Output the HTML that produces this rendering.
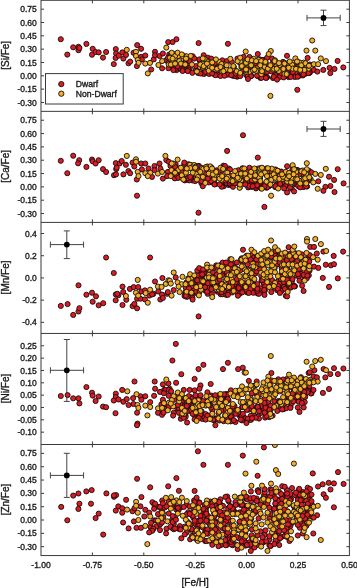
<!DOCTYPE html><html><head><meta charset="utf-8"><style>html,body{margin:0;padding:0;background:#fff;width:357px;height:588px;overflow:hidden}svg{display:block;will-change:transform}text{font-family:"Liberation Sans",sans-serif;fill:#1a1a1a;stroke:#1a1a1a;stroke-width:0.35px}</style></head><body><svg width="357" height="588" viewBox="0 0 357 588"><g stroke="#444" stroke-width="1" fill="none"><line x1="307.0" y1="17.9" x2="340.2" y2="17.9"/><line x1="323.5" y1="10.2" x2="323.5" y2="25.6"/><line x1="307.0" y1="14.9" x2="307.0" y2="20.9"/><line x1="340.2" y1="14.9" x2="340.2" y2="20.9"/><line x1="320.5" y1="10.2" x2="326.5" y2="10.2"/><line x1="320.5" y1="25.6" x2="326.5" y2="25.6"/></g><circle cx="323.5" cy="17.9" r="2.9" fill="#000"/><g stroke="#444" stroke-width="1" fill="none"><line x1="307.0" y1="129.0" x2="340.2" y2="129.0"/><line x1="323.5" y1="121.3" x2="323.5" y2="136.4"/><line x1="307.0" y1="126.0" x2="307.0" y2="132.0"/><line x1="340.2" y1="126.0" x2="340.2" y2="132.0"/><line x1="320.5" y1="121.3" x2="326.5" y2="121.3"/><line x1="320.5" y1="136.4" x2="326.5" y2="136.4"/></g><circle cx="323.5" cy="129.0" r="2.9" fill="#000"/><g stroke="#444" stroke-width="1" fill="none"><line x1="50.4" y1="244.6" x2="83.6" y2="244.6"/><line x1="66.8" y1="230.9" x2="66.8" y2="258.6"/><line x1="50.4" y1="241.6" x2="50.4" y2="247.6"/><line x1="83.6" y1="241.6" x2="83.6" y2="247.6"/><line x1="63.8" y1="230.9" x2="69.8" y2="230.9"/><line x1="63.8" y1="258.6" x2="69.8" y2="258.6"/></g><circle cx="66.8" cy="244.6" r="2.9" fill="#000"/><g stroke="#444" stroke-width="1" fill="none"><line x1="50.4" y1="370.3" x2="83.6" y2="370.3"/><line x1="66.8" y1="339.5" x2="66.8" y2="401.4"/><line x1="50.4" y1="367.3" x2="50.4" y2="373.3"/><line x1="83.6" y1="367.3" x2="83.6" y2="373.3"/><line x1="63.8" y1="339.5" x2="69.8" y2="339.5"/><line x1="63.8" y1="401.4" x2="69.8" y2="401.4"/></g><circle cx="66.8" cy="370.3" r="2.9" fill="#000"/><g stroke="#444" stroke-width="1" fill="none"><line x1="50.4" y1="475.4" x2="83.6" y2="475.4"/><line x1="66.8" y1="453.3" x2="66.8" y2="497.4"/><line x1="50.4" y1="472.4" x2="50.4" y2="478.4"/><line x1="83.6" y1="472.4" x2="83.6" y2="478.4"/><line x1="63.8" y1="453.3" x2="69.8" y2="453.3"/><line x1="63.8" y1="497.4" x2="69.8" y2="497.4"/></g><circle cx="66.8" cy="475.4" r="2.9" fill="#000"/><defs><clipPath id="c0"><rect x="41.00" y="0.30" width="308.40" height="111.05"/></clipPath><clipPath id="c1"><rect x="41.00" y="111.35" width="308.40" height="111.05"/></clipPath><clipPath id="c2"><rect x="41.00" y="222.40" width="308.40" height="111.05"/></clipPath><clipPath id="c3"><rect x="41.00" y="333.45" width="308.40" height="111.05"/></clipPath><clipPath id="c4"><rect x="41.00" y="444.50" width="308.40" height="111.05"/></clipPath></defs><g clip-path="url(#c0)" stroke="#140c0c" stroke-width="0.9"><g fill="#dc1c24"><circle cx="228.0" cy="73.2" r="2.55"/><circle cx="198.6" cy="67.5" r="2.55"/><circle cx="250.3" cy="66.0" r="2.55"/><circle cx="172.8" cy="68.4" r="2.55"/><circle cx="282.0" cy="72.7" r="2.55"/><circle cx="249.9" cy="68.5" r="2.55"/><circle cx="272.5" cy="64.9" r="2.55"/><circle cx="183.2" cy="62.1" r="2.55"/><circle cx="263.6" cy="73.5" r="2.55"/><circle cx="288.6" cy="77.1" r="2.55"/><circle cx="263.0" cy="59.9" r="2.55"/><circle cx="260.5" cy="77.9" r="2.55"/><circle cx="183.1" cy="56.0" r="2.55"/><circle cx="246.2" cy="75.1" r="2.55"/><circle cx="218.4" cy="73.5" r="2.55"/><circle cx="219.9" cy="68.0" r="2.55"/><circle cx="264.7" cy="59.9" r="2.55"/><circle cx="279.9" cy="75.8" r="2.55"/><circle cx="183.9" cy="69.5" r="2.55"/><circle cx="308.9" cy="73.0" r="2.55"/><circle cx="278.7" cy="69.6" r="2.55"/><circle cx="214.1" cy="61.6" r="2.55"/><circle cx="309.8" cy="72.7" r="2.55"/><circle cx="285.5" cy="73.5" r="2.55"/><circle cx="267.1" cy="77.2" r="2.55"/><circle cx="302.8" cy="75.5" r="2.55"/><circle cx="297.4" cy="74.3" r="2.55"/><circle cx="262.4" cy="76.3" r="2.55"/><circle cx="281.2" cy="66.2" r="2.55"/><circle cx="304.2" cy="71.8" r="2.55"/><circle cx="184.5" cy="57.7" r="2.55"/><circle cx="283.7" cy="63.0" r="2.55"/><circle cx="309.1" cy="70.5" r="2.55"/><circle cx="302.3" cy="68.0" r="2.55"/><circle cx="251.2" cy="75.7" r="2.55"/><circle cx="192.7" cy="56.2" r="2.55"/><circle cx="191.2" cy="64.0" r="2.55"/><circle cx="247.1" cy="73.3" r="2.55"/><circle cx="277.0" cy="76.4" r="2.55"/><circle cx="235.8" cy="75.7" r="2.55"/><circle cx="294.0" cy="76.4" r="2.55"/><circle cx="247.7" cy="76.3" r="2.55"/><circle cx="263.7" cy="73.9" r="2.55"/><circle cx="188.5" cy="67.8" r="2.55"/><circle cx="186.9" cy="70.4" r="2.55"/><circle cx="198.1" cy="73.0" r="2.55"/><circle cx="237.1" cy="76.7" r="2.55"/><circle cx="309.8" cy="71.9" r="2.55"/><circle cx="227.6" cy="74.7" r="2.55"/><circle cx="203.8" cy="59.7" r="2.55"/><circle cx="174.4" cy="65.7" r="2.55"/><circle cx="176.6" cy="70.1" r="2.55"/><circle cx="283.0" cy="61.9" r="2.55"/><circle cx="175.7" cy="68.8" r="2.55"/><circle cx="215.5" cy="67.5" r="2.55"/><circle cx="210.5" cy="70.7" r="2.55"/><circle cx="235.3" cy="75.6" r="2.55"/><circle cx="266.4" cy="77.7" r="2.55"/><circle cx="287.5" cy="73.0" r="2.55"/><circle cx="185.0" cy="56.4" r="2.55"/><circle cx="288.8" cy="75.8" r="2.55"/><circle cx="204.4" cy="73.7" r="2.55"/><circle cx="245.9" cy="63.1" r="2.55"/><circle cx="275.6" cy="71.8" r="2.55"/><circle cx="309.8" cy="64.5" r="2.55"/><circle cx="259.9" cy="59.4" r="2.55"/><circle cx="296.2" cy="71.2" r="2.55"/><circle cx="239.6" cy="73.9" r="2.55"/><circle cx="286.7" cy="70.8" r="2.55"/><circle cx="265.7" cy="72.2" r="2.55"/><circle cx="181.3" cy="69.0" r="2.55"/><circle cx="237.4" cy="58.6" r="2.55"/><circle cx="262.3" cy="60.0" r="2.55"/><circle cx="272.5" cy="63.3" r="2.55"/><circle cx="235.9" cy="71.0" r="2.55"/><circle cx="187.5" cy="59.8" r="2.55"/><circle cx="267.1" cy="71.9" r="2.55"/><circle cx="183.3" cy="70.2" r="2.55"/><circle cx="233.0" cy="73.4" r="2.55"/><circle cx="186.7" cy="64.3" r="2.55"/><circle cx="185.4" cy="69.2" r="2.55"/><circle cx="295.5" cy="72.4" r="2.55"/><circle cx="275.6" cy="75.1" r="2.55"/><circle cx="301.3" cy="72.0" r="2.55"/><circle cx="180.8" cy="68.9" r="2.55"/><circle cx="305.6" cy="73.7" r="2.55"/><circle cx="258.1" cy="76.2" r="2.55"/><circle cx="272.9" cy="67.9" r="2.55"/><circle cx="216.2" cy="63.0" r="2.55"/><circle cx="298.3" cy="76.4" r="2.55"/><circle cx="203.7" cy="66.9" r="2.55"/><circle cx="175.1" cy="58.7" r="2.55"/><circle cx="305.3" cy="73.3" r="2.55"/><circle cx="169.2" cy="54.5" r="2.55"/><circle cx="166.0" cy="60.3" r="2.55"/><circle cx="286.5" cy="75.5" r="2.55"/><circle cx="242.3" cy="71.2" r="2.55"/><circle cx="271.4" cy="71.5" r="2.55"/><circle cx="280.2" cy="64.3" r="2.55"/><circle cx="233.3" cy="75.9" r="2.55"/><circle cx="202.1" cy="73.5" r="2.55"/><circle cx="263.4" cy="76.6" r="2.55"/><circle cx="265.7" cy="62.7" r="2.55"/><circle cx="307.6" cy="66.4" r="2.55"/><circle cx="199.7" cy="60.7" r="2.55"/><circle cx="209.1" cy="73.9" r="2.55"/><circle cx="263.1" cy="77.0" r="2.55"/><circle cx="223.4" cy="62.0" r="2.55"/><circle cx="223.4" cy="74.1" r="2.55"/><circle cx="273.0" cy="78.0" r="2.55"/><circle cx="214.1" cy="60.9" r="2.55"/><circle cx="217.3" cy="74.7" r="2.55"/><circle cx="285.9" cy="74.9" r="2.55"/><circle cx="171.1" cy="55.0" r="2.55"/><circle cx="203.5" cy="70.0" r="2.55"/><circle cx="215.5" cy="62.5" r="2.55"/><circle cx="256.1" cy="63.6" r="2.55"/><circle cx="276.3" cy="76.5" r="2.55"/><circle cx="235.4" cy="76.0" r="2.55"/><circle cx="238.0" cy="75.6" r="2.55"/><circle cx="283.2" cy="73.4" r="2.55"/><circle cx="212.7" cy="63.9" r="2.55"/><circle cx="177.5" cy="57.7" r="2.55"/><circle cx="246.7" cy="64.6" r="2.55"/><circle cx="295.0" cy="76.9" r="2.55"/><circle cx="275.2" cy="75.2" r="2.55"/><circle cx="183.7" cy="69.3" r="2.55"/><circle cx="248.8" cy="65.6" r="2.55"/><circle cx="188.4" cy="70.6" r="2.55"/><circle cx="213.6" cy="64.6" r="2.55"/><circle cx="240.1" cy="62.8" r="2.55"/><circle cx="261.4" cy="77.8" r="2.55"/><circle cx="235.3" cy="73.5" r="2.55"/><circle cx="183.4" cy="58.2" r="2.55"/><circle cx="251.1" cy="76.2" r="2.55"/><circle cx="279.6" cy="77.0" r="2.55"/><circle cx="195.7" cy="70.0" r="2.55"/><circle cx="189.9" cy="67.6" r="2.55"/><circle cx="207.4" cy="62.7" r="2.55"/><circle cx="60.8" cy="39.2" r="2.55"/><circle cx="67.3" cy="54.6" r="2.55"/><circle cx="73.2" cy="47.3" r="2.55"/><circle cx="78.5" cy="46.8" r="2.55"/><circle cx="78.5" cy="50.2" r="2.55"/><circle cx="79.4" cy="47.9" r="2.55"/><circle cx="86.4" cy="43.9" r="2.55"/><circle cx="92.7" cy="48.8" r="2.55"/><circle cx="92.0" cy="54.7" r="2.55"/><circle cx="95.6" cy="52.0" r="2.55"/><circle cx="98.7" cy="52.4" r="2.55"/><circle cx="103.0" cy="57.6" r="2.55"/><circle cx="106.1" cy="52.0" r="2.55"/><circle cx="113.8" cy="64.1" r="2.55"/><circle cx="115.8" cy="49.1" r="2.55"/><circle cx="116.1" cy="53.4" r="2.55"/><circle cx="115.6" cy="57.9" r="2.55"/><circle cx="118.8" cy="55.6" r="2.55"/><circle cx="122.3" cy="52.4" r="2.55"/><circle cx="123.4" cy="58.6" r="2.55"/><circle cx="126.0" cy="54.9" r="2.55"/><circle cx="128.5" cy="63.3" r="2.55"/><circle cx="130.2" cy="61.6" r="2.55"/><circle cx="137.2" cy="45.1" r="2.55"/><circle cx="141.1" cy="48.8" r="2.55"/><circle cx="133.5" cy="52.7" r="2.55"/><circle cx="136.9" cy="66.1" r="2.55"/><circle cx="141.1" cy="56.9" r="2.55"/><circle cx="141.9" cy="59.4" r="2.55"/><circle cx="145.3" cy="55.5" r="2.55"/><circle cx="151.2" cy="69.5" r="2.55"/><circle cx="153.7" cy="59.4" r="2.55"/><circle cx="155.0" cy="51.8" r="2.55"/><circle cx="155.0" cy="55.2" r="2.55"/><circle cx="159.6" cy="56.0" r="2.55"/><circle cx="162.9" cy="53.5" r="2.55"/><circle cx="162.1" cy="68.3" r="2.55"/><circle cx="168.2" cy="42.1" r="2.55"/><circle cx="168.0" cy="57.7" r="2.55"/><circle cx="172.6" cy="42.1" r="2.55"/><circle cx="176.4" cy="39.2" r="2.55"/><circle cx="198.6" cy="43.1" r="2.55"/><circle cx="168.4" cy="62.8" r="2.55"/><circle cx="173.4" cy="68.7" r="2.55"/><circle cx="168.4" cy="68.2" r="2.55"/><circle cx="182.6" cy="69.5" r="2.55"/><circle cx="188.5" cy="69.5" r="2.55"/><circle cx="189.4" cy="61.1" r="2.55"/><circle cx="194.4" cy="58.6" r="2.55"/><circle cx="196.1" cy="66.1" r="2.55"/><circle cx="199.5" cy="59.4" r="2.55"/><circle cx="203.7" cy="55.2" r="2.55"/><circle cx="207.9" cy="57.7" r="2.55"/><circle cx="211.2" cy="58.6" r="2.55"/><circle cx="215.4" cy="62.8" r="2.55"/><circle cx="222.3" cy="60.3" r="2.55"/><circle cx="213.7" cy="73.7" r="2.55"/><circle cx="203.7" cy="73.7" r="2.55"/><circle cx="192.3" cy="72.8" r="2.55"/><circle cx="177.6" cy="66.1" r="2.55"/><circle cx="173.4" cy="70.1" r="2.55"/><circle cx="182.6" cy="71.0" r="2.55"/><circle cx="187.7" cy="71.0" r="2.55"/><circle cx="200.3" cy="73.5" r="2.55"/><circle cx="205.3" cy="71.8" r="2.55"/><circle cx="215.4" cy="75.2" r="2.55"/><circle cx="220.5" cy="76.0" r="2.55"/><circle cx="212.1" cy="73.5" r="2.55"/><circle cx="227.9" cy="43.8" r="2.55"/><circle cx="257.8" cy="54.0" r="2.55"/><circle cx="272.1" cy="58.6" r="2.55"/><circle cx="226.7" cy="61.1" r="2.55"/><circle cx="231.8" cy="61.9" r="2.55"/><circle cx="243.5" cy="56.9" r="2.55"/><circle cx="249.4" cy="56.9" r="2.55"/><circle cx="267.1" cy="57.7" r="2.55"/><circle cx="224.5" cy="75.7" r="2.55"/><circle cx="231.2" cy="75.2" r="2.55"/><circle cx="240.2" cy="76.1" r="2.55"/><circle cx="248.0" cy="79.0" r="2.55"/><circle cx="257.0" cy="75.7" r="2.55"/><circle cx="265.9" cy="77.9" r="2.55"/><circle cx="273.8" cy="76.8" r="2.55"/><circle cx="277.1" cy="79.6" r="2.55"/><circle cx="283.6" cy="77.4" r="2.55"/><circle cx="290.7" cy="77.0" r="2.55"/><circle cx="297.7" cy="76.7" r="2.55"/><circle cx="297.3" cy="89.8" r="2.55"/><circle cx="287.0" cy="55.8" r="2.55"/><circle cx="307.6" cy="57.9" r="2.55"/><circle cx="337.6" cy="60.9" r="2.55"/><circle cx="343.3" cy="67.4" r="2.55"/><circle cx="313.9" cy="69.9" r="2.55"/><circle cx="317.4" cy="71.6" r="2.55"/><circle cx="323.3" cy="69.9" r="2.55"/><circle cx="329.6" cy="67.8" r="2.55"/><circle cx="334.5" cy="68.9" r="2.55"/><circle cx="330.3" cy="73.1" r="2.55"/><circle cx="303.4" cy="74.5" r="2.55"/><circle cx="308.6" cy="73.1" r="2.55"/><circle cx="292.9" cy="72.0" r="2.55"/><circle cx="281.3" cy="73.1" r="2.55"/></g><g fill="#f2b028"><circle cx="174.5" cy="62.6" r="2.55"/><circle cx="187.1" cy="57.4" r="2.55"/><circle cx="285.2" cy="63.7" r="2.55"/><circle cx="259.3" cy="65.7" r="2.55"/><circle cx="175.2" cy="55.0" r="2.55"/><circle cx="265.3" cy="67.1" r="2.55"/><circle cx="251.5" cy="67.1" r="2.55"/><circle cx="293.8" cy="66.4" r="2.55"/><circle cx="252.8" cy="69.6" r="2.55"/><circle cx="207.6" cy="64.0" r="2.55"/><circle cx="184.9" cy="59.4" r="2.55"/><circle cx="293.2" cy="62.6" r="2.55"/><circle cx="292.1" cy="65.8" r="2.55"/><circle cx="200.1" cy="65.2" r="2.55"/><circle cx="266.8" cy="68.8" r="2.55"/><circle cx="223.3" cy="65.3" r="2.55"/><circle cx="258.6" cy="59.7" r="2.55"/><circle cx="173.7" cy="54.0" r="2.55"/><circle cx="180.8" cy="60.9" r="2.55"/><circle cx="202.8" cy="63.1" r="2.55"/><circle cx="234.0" cy="67.3" r="2.55"/><circle cx="180.9" cy="60.5" r="2.55"/><circle cx="287.0" cy="63.5" r="2.55"/><circle cx="304.8" cy="69.2" r="2.55"/><circle cx="204.1" cy="63.5" r="2.55"/><circle cx="241.6" cy="65.1" r="2.55"/><circle cx="219.2" cy="61.9" r="2.55"/><circle cx="261.3" cy="74.1" r="2.55"/><circle cx="275.5" cy="68.5" r="2.55"/><circle cx="307.9" cy="67.4" r="2.55"/><circle cx="246.1" cy="61.0" r="2.55"/><circle cx="286.6" cy="64.4" r="2.55"/><circle cx="208.8" cy="61.6" r="2.55"/><circle cx="203.9" cy="64.4" r="2.55"/><circle cx="298.9" cy="67.0" r="2.55"/><circle cx="300.0" cy="69.1" r="2.55"/><circle cx="247.2" cy="64.6" r="2.55"/><circle cx="247.8" cy="63.2" r="2.55"/><circle cx="278.8" cy="69.2" r="2.55"/><circle cx="255.4" cy="68.2" r="2.55"/><circle cx="267.1" cy="67.6" r="2.55"/><circle cx="186.0" cy="57.4" r="2.55"/><circle cx="176.6" cy="58.3" r="2.55"/><circle cx="230.3" cy="58.8" r="2.55"/><circle cx="257.1" cy="68.4" r="2.55"/><circle cx="181.3" cy="59.3" r="2.55"/><circle cx="279.7" cy="65.0" r="2.55"/><circle cx="249.3" cy="71.8" r="2.55"/><circle cx="205.1" cy="59.5" r="2.55"/><circle cx="173.4" cy="57.4" r="2.55"/><circle cx="239.0" cy="61.8" r="2.55"/><circle cx="273.0" cy="69.7" r="2.55"/><circle cx="285.6" cy="68.1" r="2.55"/><circle cx="287.9" cy="67.6" r="2.55"/><circle cx="225.1" cy="64.5" r="2.55"/><circle cx="203.3" cy="60.0" r="2.55"/><circle cx="207.2" cy="61.5" r="2.55"/><circle cx="211.2" cy="63.8" r="2.55"/><circle cx="221.7" cy="66.5" r="2.55"/><circle cx="204.6" cy="58.8" r="2.55"/><circle cx="172.1" cy="54.4" r="2.55"/><circle cx="200.0" cy="67.0" r="2.55"/><circle cx="294.3" cy="67.6" r="2.55"/><circle cx="284.6" cy="63.0" r="2.55"/><circle cx="257.7" cy="70.6" r="2.55"/><circle cx="275.2" cy="68.9" r="2.55"/><circle cx="202.8" cy="58.4" r="2.55"/><circle cx="308.5" cy="68.6" r="2.55"/><circle cx="256.1" cy="70.9" r="2.55"/><circle cx="210.4" cy="67.4" r="2.55"/><circle cx="174.9" cy="58.6" r="2.55"/><circle cx="241.4" cy="67.1" r="2.55"/><circle cx="304.1" cy="65.1" r="2.55"/><circle cx="297.1" cy="69.0" r="2.55"/><circle cx="208.3" cy="63.8" r="2.55"/><circle cx="302.6" cy="65.5" r="2.55"/><circle cx="240.6" cy="62.0" r="2.55"/><circle cx="246.2" cy="72.0" r="2.55"/><circle cx="260.1" cy="64.1" r="2.55"/><circle cx="301.3" cy="63.8" r="2.55"/><circle cx="308.5" cy="65.8" r="2.55"/><circle cx="209.9" cy="67.2" r="2.55"/><circle cx="298.3" cy="69.1" r="2.55"/><circle cx="186.4" cy="58.6" r="2.55"/><circle cx="215.9" cy="59.4" r="2.55"/><circle cx="275.5" cy="67.3" r="2.55"/><circle cx="242.5" cy="65.5" r="2.55"/><circle cx="184.4" cy="63.7" r="2.55"/><circle cx="292.0" cy="64.7" r="2.55"/><circle cx="202.3" cy="63.9" r="2.55"/><circle cx="296.8" cy="68.8" r="2.55"/><circle cx="232.8" cy="68.5" r="2.55"/><circle cx="260.2" cy="64.4" r="2.55"/><circle cx="202.8" cy="68.0" r="2.55"/><circle cx="182.4" cy="56.1" r="2.55"/><circle cx="251.1" cy="65.9" r="2.55"/><circle cx="253.8" cy="58.7" r="2.55"/><circle cx="295.0" cy="68.9" r="2.55"/><circle cx="264.5" cy="66.9" r="2.55"/><circle cx="171.0" cy="59.6" r="2.55"/><circle cx="273.9" cy="68.9" r="2.55"/><circle cx="186.7" cy="56.3" r="2.55"/><circle cx="275.0" cy="60.3" r="2.55"/><circle cx="221.3" cy="64.7" r="2.55"/><circle cx="190.7" cy="55.9" r="2.55"/><circle cx="306.8" cy="65.1" r="2.55"/><circle cx="173.2" cy="62.0" r="2.55"/><circle cx="300.2" cy="64.7" r="2.55"/><circle cx="297.0" cy="62.1" r="2.55"/><circle cx="284.5" cy="73.9" r="2.55"/><circle cx="212.2" cy="62.4" r="2.55"/><circle cx="303.7" cy="62.6" r="2.55"/><circle cx="278.8" cy="71.0" r="2.55"/><circle cx="178.3" cy="56.0" r="2.55"/><circle cx="269.6" cy="67.7" r="2.55"/><circle cx="226.9" cy="69.4" r="2.55"/><circle cx="299.5" cy="62.4" r="2.55"/><circle cx="292.5" cy="68.6" r="2.55"/><circle cx="253.0" cy="70.4" r="2.55"/><circle cx="203.2" cy="67.4" r="2.55"/><circle cx="265.0" cy="62.5" r="2.55"/><circle cx="175.2" cy="55.8" r="2.55"/><circle cx="246.3" cy="70.5" r="2.55"/><circle cx="126.8" cy="49.8" r="2.55"/><circle cx="136.0" cy="51.8" r="2.55"/><circle cx="136.0" cy="56.0" r="2.55"/><circle cx="137.7" cy="59.9" r="2.55"/><circle cx="138.6" cy="62.8" r="2.55"/><circle cx="145.3" cy="63.6" r="2.55"/><circle cx="150.0" cy="62.9" r="2.55"/><circle cx="147.8" cy="73.4" r="2.55"/><circle cx="158.4" cy="65.0" r="2.55"/><circle cx="162.1" cy="61.1" r="2.55"/><circle cx="166.3" cy="47.6" r="2.55"/><circle cx="168.8" cy="64.5" r="2.55"/><circle cx="171.7" cy="52.7" r="2.55"/><circle cx="177.6" cy="52.7" r="2.55"/><circle cx="181.8" cy="54.4" r="2.55"/><circle cx="170.0" cy="57.7" r="2.55"/><circle cx="172.6" cy="58.6" r="2.55"/><circle cx="170.9" cy="64.5" r="2.55"/><circle cx="179.3" cy="61.1" r="2.55"/><circle cx="181.0" cy="63.6" r="2.55"/><circle cx="186.0" cy="58.6" r="2.55"/><circle cx="185.2" cy="64.5" r="2.55"/><circle cx="191.9" cy="64.5" r="2.55"/><circle cx="196.9" cy="71.5" r="2.55"/><circle cx="200.3" cy="64.5" r="2.55"/><circle cx="203.7" cy="66.1" r="2.55"/><circle cx="207.0" cy="63.6" r="2.55"/><circle cx="208.7" cy="70.7" r="2.55"/><circle cx="212.1" cy="67.8" r="2.55"/><circle cx="217.1" cy="68.7" r="2.55"/><circle cx="221.5" cy="64.0" r="2.55"/><circle cx="222.1" cy="71.5" r="2.55"/><circle cx="220.5" cy="67.0" r="2.55"/><circle cx="175.1" cy="63.6" r="2.55"/><circle cx="245.7" cy="51.5" r="2.55"/><circle cx="270.8" cy="51.0" r="2.55"/><circle cx="268.7" cy="54.0" r="2.55"/><circle cx="226.7" cy="65.3" r="2.55"/><circle cx="233.4" cy="66.1" r="2.55"/><circle cx="237.6" cy="61.1" r="2.55"/><circle cx="240.2" cy="57.7" r="2.55"/><circle cx="241.8" cy="66.1" r="2.55"/><circle cx="246.0" cy="62.8" r="2.55"/><circle cx="247.7" cy="59.4" r="2.55"/><circle cx="251.9" cy="60.3" r="2.55"/><circle cx="251.1" cy="65.3" r="2.55"/><circle cx="254.5" cy="69.5" r="2.55"/><circle cx="256.1" cy="61.1" r="2.55"/><circle cx="261.2" cy="61.1" r="2.55"/><circle cx="260.3" cy="65.3" r="2.55"/><circle cx="265.4" cy="61.9" r="2.55"/><circle cx="267.9" cy="68.7" r="2.55"/><circle cx="270.4" cy="65.3" r="2.55"/><circle cx="274.6" cy="61.1" r="2.55"/><circle cx="276.7" cy="68.8" r="2.55"/><circle cx="279.0" cy="63.1" r="2.55"/><circle cx="223.4" cy="71.2" r="2.55"/><circle cx="230.1" cy="70.3" r="2.55"/><circle cx="236.8" cy="71.2" r="2.55"/><circle cx="246.0" cy="69.5" r="2.55"/><circle cx="240.2" cy="72.9" r="2.55"/><circle cx="262.0" cy="71.2" r="2.55"/><circle cx="270.4" cy="95.9" r="2.55"/><circle cx="312.2" cy="40.5" r="2.55"/><circle cx="306.5" cy="50.6" r="2.55"/><circle cx="315.3" cy="50.6" r="2.55"/><circle cx="320.8" cy="58.4" r="2.55"/><circle cx="326.0" cy="61.1" r="2.55"/><circle cx="284.5" cy="63.6" r="2.55"/><circle cx="289.7" cy="61.5" r="2.55"/><circle cx="295.4" cy="58.4" r="2.55"/><circle cx="297.1" cy="61.5" r="2.55"/><circle cx="288.7" cy="67.8" r="2.55"/><circle cx="283.4" cy="68.9" r="2.55"/><circle cx="296.0" cy="68.9" r="2.55"/><circle cx="301.3" cy="65.3" r="2.55"/><circle cx="305.5" cy="63.2" r="2.55"/><circle cx="304.4" cy="69.9" r="2.55"/><circle cx="309.0" cy="65.7" r="2.55"/><circle cx="313.9" cy="64.2" r="2.55"/><circle cx="318.1" cy="64.2" r="2.55"/><circle cx="300.2" cy="69.9" r="2.55"/><circle cx="286.6" cy="74.1" r="2.55"/></g></g><g clip-path="url(#c1)" stroke="#140c0c" stroke-width="0.9"><g fill="#dc1c24"><circle cx="229.1" cy="185.0" r="2.55"/><circle cx="221.7" cy="170.7" r="2.55"/><circle cx="198.9" cy="165.9" r="2.55"/><circle cx="230.2" cy="184.2" r="2.55"/><circle cx="210.2" cy="176.3" r="2.55"/><circle cx="185.4" cy="171.9" r="2.55"/><circle cx="303.9" cy="186.7" r="2.55"/><circle cx="177.6" cy="177.7" r="2.55"/><circle cx="298.4" cy="180.8" r="2.55"/><circle cx="192.8" cy="178.6" r="2.55"/><circle cx="227.4" cy="184.5" r="2.55"/><circle cx="205.1" cy="179.6" r="2.55"/><circle cx="175.8" cy="171.5" r="2.55"/><circle cx="175.4" cy="176.0" r="2.55"/><circle cx="230.5" cy="180.9" r="2.55"/><circle cx="239.5" cy="172.3" r="2.55"/><circle cx="181.7" cy="175.3" r="2.55"/><circle cx="223.7" cy="186.2" r="2.55"/><circle cx="291.7" cy="188.7" r="2.55"/><circle cx="285.7" cy="172.8" r="2.55"/><circle cx="239.8" cy="187.4" r="2.55"/><circle cx="193.4" cy="178.8" r="2.55"/><circle cx="179.3" cy="168.2" r="2.55"/><circle cx="192.5" cy="180.5" r="2.55"/><circle cx="195.9" cy="168.1" r="2.55"/><circle cx="266.5" cy="186.8" r="2.55"/><circle cx="260.4" cy="175.6" r="2.55"/><circle cx="248.8" cy="179.8" r="2.55"/><circle cx="184.9" cy="180.4" r="2.55"/><circle cx="226.0" cy="183.3" r="2.55"/><circle cx="275.6" cy="169.5" r="2.55"/><circle cx="206.0" cy="178.1" r="2.55"/><circle cx="253.2" cy="181.7" r="2.55"/><circle cx="189.1" cy="180.4" r="2.55"/><circle cx="293.7" cy="184.3" r="2.55"/><circle cx="233.0" cy="186.8" r="2.55"/><circle cx="248.2" cy="187.4" r="2.55"/><circle cx="261.1" cy="185.1" r="2.55"/><circle cx="296.3" cy="184.1" r="2.55"/><circle cx="170.9" cy="175.7" r="2.55"/><circle cx="236.1" cy="182.8" r="2.55"/><circle cx="175.5" cy="167.8" r="2.55"/><circle cx="268.7" cy="185.8" r="2.55"/><circle cx="261.2" cy="188.3" r="2.55"/><circle cx="203.5" cy="179.8" r="2.55"/><circle cx="276.0" cy="175.2" r="2.55"/><circle cx="216.7" cy="171.3" r="2.55"/><circle cx="259.6" cy="182.5" r="2.55"/><circle cx="309.0" cy="177.6" r="2.55"/><circle cx="269.1" cy="186.1" r="2.55"/><circle cx="185.1" cy="179.4" r="2.55"/><circle cx="221.6" cy="183.2" r="2.55"/><circle cx="296.6" cy="170.5" r="2.55"/><circle cx="299.8" cy="186.6" r="2.55"/><circle cx="290.4" cy="185.2" r="2.55"/><circle cx="184.2" cy="164.8" r="2.55"/><circle cx="306.9" cy="178.3" r="2.55"/><circle cx="232.0" cy="183.3" r="2.55"/><circle cx="292.4" cy="170.9" r="2.55"/><circle cx="239.7" cy="177.6" r="2.55"/><circle cx="288.1" cy="174.2" r="2.55"/><circle cx="181.5" cy="176.2" r="2.55"/><circle cx="227.0" cy="175.1" r="2.55"/><circle cx="199.3" cy="170.6" r="2.55"/><circle cx="241.2" cy="175.3" r="2.55"/><circle cx="277.1" cy="184.0" r="2.55"/><circle cx="289.7" cy="182.2" r="2.55"/><circle cx="194.1" cy="172.7" r="2.55"/><circle cx="212.8" cy="180.0" r="2.55"/><circle cx="216.6" cy="170.3" r="2.55"/><circle cx="273.5" cy="170.5" r="2.55"/><circle cx="184.4" cy="169.8" r="2.55"/><circle cx="282.9" cy="183.6" r="2.55"/><circle cx="226.7" cy="183.2" r="2.55"/><circle cx="275.2" cy="187.1" r="2.55"/><circle cx="251.5" cy="183.4" r="2.55"/><circle cx="202.5" cy="179.3" r="2.55"/><circle cx="279.9" cy="182.9" r="2.55"/><circle cx="229.6" cy="183.4" r="2.55"/><circle cx="265.9" cy="187.5" r="2.55"/><circle cx="262.9" cy="184.4" r="2.55"/><circle cx="247.2" cy="170.9" r="2.55"/><circle cx="251.6" cy="179.1" r="2.55"/><circle cx="242.7" cy="180.8" r="2.55"/><circle cx="244.1" cy="176.1" r="2.55"/><circle cx="199.8" cy="178.3" r="2.55"/><circle cx="278.3" cy="171.1" r="2.55"/><circle cx="229.7" cy="181.6" r="2.55"/><circle cx="207.7" cy="170.5" r="2.55"/><circle cx="188.4" cy="177.5" r="2.55"/><circle cx="202.1" cy="183.6" r="2.55"/><circle cx="260.7" cy="185.2" r="2.55"/><circle cx="187.8" cy="178.3" r="2.55"/><circle cx="170.4" cy="173.8" r="2.55"/><circle cx="221.5" cy="185.4" r="2.55"/><circle cx="178.1" cy="176.1" r="2.55"/><circle cx="281.3" cy="171.6" r="2.55"/><circle cx="305.2" cy="181.0" r="2.55"/><circle cx="298.4" cy="184.0" r="2.55"/><circle cx="296.5" cy="180.7" r="2.55"/><circle cx="264.9" cy="186.8" r="2.55"/><circle cx="245.4" cy="183.1" r="2.55"/><circle cx="292.5" cy="169.2" r="2.55"/><circle cx="266.9" cy="187.6" r="2.55"/><circle cx="297.5" cy="170.0" r="2.55"/><circle cx="258.8" cy="175.1" r="2.55"/><circle cx="230.0" cy="178.6" r="2.55"/><circle cx="211.6" cy="182.2" r="2.55"/><circle cx="308.4" cy="180.7" r="2.55"/><circle cx="253.3" cy="181.1" r="2.55"/><circle cx="175.7" cy="174.2" r="2.55"/><circle cx="170.9" cy="165.8" r="2.55"/><circle cx="256.4" cy="181.7" r="2.55"/><circle cx="259.0" cy="182.6" r="2.55"/><circle cx="235.0" cy="183.2" r="2.55"/><circle cx="195.7" cy="165.9" r="2.55"/><circle cx="299.8" cy="181.4" r="2.55"/><circle cx="286.8" cy="184.7" r="2.55"/><circle cx="175.6" cy="164.2" r="2.55"/><circle cx="251.7" cy="187.0" r="2.55"/><circle cx="303.2" cy="186.9" r="2.55"/><circle cx="170.7" cy="173.3" r="2.55"/><circle cx="307.2" cy="171.3" r="2.55"/><circle cx="188.3" cy="164.2" r="2.55"/><circle cx="204.4" cy="179.7" r="2.55"/><circle cx="177.1" cy="175.1" r="2.55"/><circle cx="259.3" cy="182.9" r="2.55"/><circle cx="302.4" cy="174.1" r="2.55"/><circle cx="214.2" cy="180.6" r="2.55"/><circle cx="266.1" cy="171.2" r="2.55"/><circle cx="229.4" cy="175.1" r="2.55"/><circle cx="304.2" cy="183.3" r="2.55"/><circle cx="211.5" cy="167.5" r="2.55"/><circle cx="269.9" cy="185.4" r="2.55"/><circle cx="256.0" cy="188.4" r="2.55"/><circle cx="255.5" cy="186.7" r="2.55"/><circle cx="230.0" cy="179.3" r="2.55"/><circle cx="296.0" cy="170.1" r="2.55"/><circle cx="285.3" cy="186.3" r="2.55"/><circle cx="208.9" cy="182.4" r="2.55"/><circle cx="267.2" cy="187.2" r="2.55"/><circle cx="182.1" cy="172.3" r="2.55"/><circle cx="198.5" cy="179.2" r="2.55"/><circle cx="276.7" cy="184.7" r="2.55"/><circle cx="182.5" cy="176.7" r="2.55"/><circle cx="203.1" cy="176.7" r="2.55"/><circle cx="195.7" cy="177.7" r="2.55"/><circle cx="191.2" cy="165.2" r="2.55"/><circle cx="174.8" cy="178.4" r="2.55"/><circle cx="280.6" cy="177.3" r="2.55"/><circle cx="278.9" cy="185.3" r="2.55"/><circle cx="249.1" cy="185.9" r="2.55"/><circle cx="261.0" cy="188.1" r="2.55"/><circle cx="307.1" cy="186.5" r="2.55"/><circle cx="298.2" cy="186.1" r="2.55"/><circle cx="176.7" cy="175.3" r="2.55"/><circle cx="190.6" cy="177.5" r="2.55"/><circle cx="266.2" cy="168.5" r="2.55"/><circle cx="197.7" cy="166.2" r="2.55"/><circle cx="201.3" cy="183.0" r="2.55"/><circle cx="183.8" cy="179.1" r="2.55"/><circle cx="192.1" cy="169.3" r="2.55"/><circle cx="215.2" cy="184.1" r="2.55"/><circle cx="309.0" cy="170.8" r="2.55"/><circle cx="221.7" cy="186.7" r="2.55"/><circle cx="297.3" cy="170.4" r="2.55"/><circle cx="60.8" cy="160.8" r="2.55"/><circle cx="67.3" cy="173.2" r="2.55"/><circle cx="73.2" cy="155.7" r="2.55"/><circle cx="79.2" cy="160.2" r="2.55"/><circle cx="78.1" cy="163.3" r="2.55"/><circle cx="86.4" cy="166.9" r="2.55"/><circle cx="92.0" cy="159.5" r="2.55"/><circle cx="92.7" cy="161.3" r="2.55"/><circle cx="95.6" cy="163.5" r="2.55"/><circle cx="98.7" cy="160.2" r="2.55"/><circle cx="103.0" cy="169.1" r="2.55"/><circle cx="106.1" cy="172.0" r="2.55"/><circle cx="114.0" cy="175.2" r="2.55"/><circle cx="115.8" cy="163.1" r="2.55"/><circle cx="116.2" cy="169.1" r="2.55"/><circle cx="116.0" cy="174.4" r="2.55"/><circle cx="119.6" cy="163.5" r="2.55"/><circle cx="116.7" cy="167.7" r="2.55"/><circle cx="121.7" cy="161.0" r="2.55"/><circle cx="125.9" cy="164.8" r="2.55"/><circle cx="123.4" cy="174.4" r="2.55"/><circle cx="128.4" cy="171.1" r="2.55"/><circle cx="130.1" cy="173.2" r="2.55"/><circle cx="132.6" cy="162.6" r="2.55"/><circle cx="134.3" cy="166.5" r="2.55"/><circle cx="136.8" cy="179.5" r="2.55"/><circle cx="141.1" cy="163.5" r="2.55"/><circle cx="145.3" cy="163.5" r="2.55"/><circle cx="141.9" cy="169.4" r="2.55"/><circle cx="148.6" cy="168.5" r="2.55"/><circle cx="152.0" cy="176.9" r="2.55"/><circle cx="154.5" cy="166.0" r="2.55"/><circle cx="154.5" cy="170.2" r="2.55"/><circle cx="159.5" cy="163.5" r="2.55"/><circle cx="160.4" cy="168.5" r="2.55"/><circle cx="162.9" cy="178.6" r="2.55"/><circle cx="166.3" cy="160.1" r="2.55"/><circle cx="168.8" cy="161.8" r="2.55"/><circle cx="170.5" cy="166.0" r="2.55"/><circle cx="173.8" cy="173.6" r="2.55"/><circle cx="167.9" cy="171.9" r="2.55"/><circle cx="167.1" cy="176.1" r="2.55"/><circle cx="227.1" cy="150.9" r="2.55"/><circle cx="223.4" cy="165.7" r="2.55"/><circle cx="184.3" cy="162.6" r="2.55"/><circle cx="175.0" cy="166.8" r="2.55"/><circle cx="178.4" cy="177.8" r="2.55"/><circle cx="190.2" cy="176.9" r="2.55"/><circle cx="197.7" cy="170.2" r="2.55"/><circle cx="201.1" cy="181.1" r="2.55"/><circle cx="202.8" cy="186.2" r="2.55"/><circle cx="206.1" cy="173.6" r="2.55"/><circle cx="211.2" cy="181.1" r="2.55"/><circle cx="214.5" cy="184.5" r="2.55"/><circle cx="218.7" cy="171.1" r="2.55"/><circle cx="225.5" cy="180.3" r="2.55"/><circle cx="228.8" cy="168.5" r="2.55"/><circle cx="219.6" cy="184.5" r="2.55"/><circle cx="195.2" cy="181.1" r="2.55"/><circle cx="207.8" cy="178.6" r="2.55"/><circle cx="257.8" cy="157.6" r="2.55"/><circle cx="225.0" cy="166.0" r="2.55"/><circle cx="230.0" cy="169.4" r="2.55"/><circle cx="238.4" cy="170.2" r="2.55"/><circle cx="249.4" cy="167.7" r="2.55"/><circle cx="251.9" cy="180.3" r="2.55"/><circle cx="257.0" cy="185.3" r="2.55"/><circle cx="271.2" cy="171.9" r="2.55"/><circle cx="281.3" cy="171.9" r="2.55"/><circle cx="264.5" cy="186.2" r="2.55"/><circle cx="275.4" cy="186.2" r="2.55"/><circle cx="280.2" cy="183.9" r="2.55"/><circle cx="252.7" cy="186.2" r="2.55"/><circle cx="245.2" cy="184.5" r="2.55"/><circle cx="287.1" cy="166.2" r="2.55"/><circle cx="337.7" cy="169.2" r="2.55"/><circle cx="329.0" cy="176.7" r="2.55"/><circle cx="334.1" cy="179.9" r="2.55"/><circle cx="343.6" cy="183.4" r="2.55"/><circle cx="330.4" cy="186.0" r="2.55"/><circle cx="325.4" cy="186.8" r="2.55"/><circle cx="323.4" cy="190.8" r="2.55"/><circle cx="334.5" cy="192.0" r="2.55"/><circle cx="299.2" cy="174.3" r="2.55"/><circle cx="311.3" cy="172.3" r="2.55"/><circle cx="318.3" cy="181.3" r="2.55"/><circle cx="287.1" cy="192.4" r="2.55"/><circle cx="294.1" cy="191.4" r="2.55"/><circle cx="284.1" cy="188.4" r="2.55"/><circle cx="300.2" cy="187.4" r="2.55"/><circle cx="306.2" cy="186.4" r="2.55"/><circle cx="290.1" cy="187.4" r="2.55"/><circle cx="137.0" cy="195.7" r="2.55"/><circle cx="198.5" cy="212.7" r="2.55"/><circle cx="264.4" cy="206.9" r="2.55"/><circle cx="243.0" cy="135.2" r="2.55"/></g><g fill="#f2b028"><circle cx="214.4" cy="177.5" r="2.55"/><circle cx="295.4" cy="178.0" r="2.55"/><circle cx="299.2" cy="171.0" r="2.55"/><circle cx="222.7" cy="177.0" r="2.55"/><circle cx="307.3" cy="173.1" r="2.55"/><circle cx="243.5" cy="175.5" r="2.55"/><circle cx="255.1" cy="179.4" r="2.55"/><circle cx="213.5" cy="174.6" r="2.55"/><circle cx="280.8" cy="178.0" r="2.55"/><circle cx="242.4" cy="168.3" r="2.55"/><circle cx="242.6" cy="168.6" r="2.55"/><circle cx="285.8" cy="171.8" r="2.55"/><circle cx="241.9" cy="174.1" r="2.55"/><circle cx="310.7" cy="179.3" r="2.55"/><circle cx="278.6" cy="177.6" r="2.55"/><circle cx="257.5" cy="177.0" r="2.55"/><circle cx="297.2" cy="171.8" r="2.55"/><circle cx="262.7" cy="168.6" r="2.55"/><circle cx="201.8" cy="176.7" r="2.55"/><circle cx="199.0" cy="177.0" r="2.55"/><circle cx="191.2" cy="166.1" r="2.55"/><circle cx="207.5" cy="166.5" r="2.55"/><circle cx="249.9" cy="175.0" r="2.55"/><circle cx="205.3" cy="182.9" r="2.55"/><circle cx="245.5" cy="176.0" r="2.55"/><circle cx="198.3" cy="176.6" r="2.55"/><circle cx="213.9" cy="172.3" r="2.55"/><circle cx="202.1" cy="168.0" r="2.55"/><circle cx="282.0" cy="179.3" r="2.55"/><circle cx="295.0" cy="169.5" r="2.55"/><circle cx="272.9" cy="180.2" r="2.55"/><circle cx="200.1" cy="177.2" r="2.55"/><circle cx="190.1" cy="164.7" r="2.55"/><circle cx="268.4" cy="181.4" r="2.55"/><circle cx="274.6" cy="169.8" r="2.55"/><circle cx="287.2" cy="181.6" r="2.55"/><circle cx="271.6" cy="176.0" r="2.55"/><circle cx="257.8" cy="168.6" r="2.55"/><circle cx="270.1" cy="179.5" r="2.55"/><circle cx="194.2" cy="165.0" r="2.55"/><circle cx="278.2" cy="188.5" r="2.55"/><circle cx="196.2" cy="174.1" r="2.55"/><circle cx="210.3" cy="170.4" r="2.55"/><circle cx="182.2" cy="178.0" r="2.55"/><circle cx="252.2" cy="170.4" r="2.55"/><circle cx="295.7" cy="173.8" r="2.55"/><circle cx="192.0" cy="167.3" r="2.55"/><circle cx="216.4" cy="176.8" r="2.55"/><circle cx="197.9" cy="177.0" r="2.55"/><circle cx="241.1" cy="180.6" r="2.55"/><circle cx="266.5" cy="181.6" r="2.55"/><circle cx="214.4" cy="178.7" r="2.55"/><circle cx="259.4" cy="173.2" r="2.55"/><circle cx="234.6" cy="180.2" r="2.55"/><circle cx="239.6" cy="187.8" r="2.55"/><circle cx="303.6" cy="178.7" r="2.55"/><circle cx="220.5" cy="167.8" r="2.55"/><circle cx="303.5" cy="178.9" r="2.55"/><circle cx="283.8" cy="176.7" r="2.55"/><circle cx="260.1" cy="177.9" r="2.55"/><circle cx="236.5" cy="173.4" r="2.55"/><circle cx="290.8" cy="174.3" r="2.55"/><circle cx="230.8" cy="180.4" r="2.55"/><circle cx="259.9" cy="168.3" r="2.55"/><circle cx="280.2" cy="175.7" r="2.55"/><circle cx="289.1" cy="172.9" r="2.55"/><circle cx="295.3" cy="179.8" r="2.55"/><circle cx="203.3" cy="168.7" r="2.55"/><circle cx="178.3" cy="170.0" r="2.55"/><circle cx="239.8" cy="177.8" r="2.55"/><circle cx="236.5" cy="179.0" r="2.55"/><circle cx="289.4" cy="176.5" r="2.55"/><circle cx="306.4" cy="171.0" r="2.55"/><circle cx="260.3" cy="168.6" r="2.55"/><circle cx="309.4" cy="178.3" r="2.55"/><circle cx="222.0" cy="176.3" r="2.55"/><circle cx="241.5" cy="173.1" r="2.55"/><circle cx="299.2" cy="180.6" r="2.55"/><circle cx="266.7" cy="172.6" r="2.55"/><circle cx="215.2" cy="174.9" r="2.55"/><circle cx="302.6" cy="170.5" r="2.55"/><circle cx="291.5" cy="183.5" r="2.55"/><circle cx="271.8" cy="168.6" r="2.55"/><circle cx="292.3" cy="178.6" r="2.55"/><circle cx="222.2" cy="178.4" r="2.55"/><circle cx="221.6" cy="179.7" r="2.55"/><circle cx="255.4" cy="174.3" r="2.55"/><circle cx="296.1" cy="176.4" r="2.55"/><circle cx="210.2" cy="166.4" r="2.55"/><circle cx="203.2" cy="177.2" r="2.55"/><circle cx="295.7" cy="179.2" r="2.55"/><circle cx="253.7" cy="171.8" r="2.55"/><circle cx="250.1" cy="176.1" r="2.55"/><circle cx="223.1" cy="168.9" r="2.55"/><circle cx="219.0" cy="177.0" r="2.55"/><circle cx="239.1" cy="179.2" r="2.55"/><circle cx="206.1" cy="166.9" r="2.55"/><circle cx="195.7" cy="166.7" r="2.55"/><circle cx="254.9" cy="176.2" r="2.55"/><circle cx="306.2" cy="174.1" r="2.55"/><circle cx="225.8" cy="176.1" r="2.55"/><circle cx="261.8" cy="188.7" r="2.55"/><circle cx="266.1" cy="174.4" r="2.55"/><circle cx="277.6" cy="170.7" r="2.55"/><circle cx="206.5" cy="168.5" r="2.55"/><circle cx="193.9" cy="169.1" r="2.55"/><circle cx="296.2" cy="171.9" r="2.55"/><circle cx="259.2" cy="177.5" r="2.55"/><circle cx="286.9" cy="178.5" r="2.55"/><circle cx="190.3" cy="168.1" r="2.55"/><circle cx="271.3" cy="179.8" r="2.55"/><circle cx="293.6" cy="174.3" r="2.55"/><circle cx="264.9" cy="172.6" r="2.55"/><circle cx="210.6" cy="171.3" r="2.55"/><circle cx="301.4" cy="171.3" r="2.55"/><circle cx="126.8" cy="155.9" r="2.55"/><circle cx="136.0" cy="159.3" r="2.55"/><circle cx="136.0" cy="161.8" r="2.55"/><circle cx="137.7" cy="171.9" r="2.55"/><circle cx="138.5" cy="176.1" r="2.55"/><circle cx="145.3" cy="173.2" r="2.55"/><circle cx="150.3" cy="172.7" r="2.55"/><circle cx="147.8" cy="176.1" r="2.55"/><circle cx="157.9" cy="173.6" r="2.55"/><circle cx="162.1" cy="171.9" r="2.55"/><circle cx="165.4" cy="155.9" r="2.55"/><circle cx="171.5" cy="170.2" r="2.55"/><circle cx="170.7" cy="176.1" r="2.55"/><circle cx="173.0" cy="163.5" r="2.55"/><circle cx="177.6" cy="159.6" r="2.55"/><circle cx="171.7" cy="163.5" r="2.55"/><circle cx="175.0" cy="172.7" r="2.55"/><circle cx="180.9" cy="167.7" r="2.55"/><circle cx="181.8" cy="175.3" r="2.55"/><circle cx="183.4" cy="179.5" r="2.55"/><circle cx="186.0" cy="172.7" r="2.55"/><circle cx="186.8" cy="168.5" r="2.55"/><circle cx="192.7" cy="172.7" r="2.55"/><circle cx="195.2" cy="167.7" r="2.55"/><circle cx="196.9" cy="179.5" r="2.55"/><circle cx="200.3" cy="171.9" r="2.55"/><circle cx="202.8" cy="176.9" r="2.55"/><circle cx="208.7" cy="173.6" r="2.55"/><circle cx="212.0" cy="168.5" r="2.55"/><circle cx="212.9" cy="174.4" r="2.55"/><circle cx="216.2" cy="171.9" r="2.55"/><circle cx="219.6" cy="178.6" r="2.55"/><circle cx="222.1" cy="176.1" r="2.55"/><circle cx="227.3" cy="172.7" r="2.55"/><circle cx="228.0" cy="176.9" r="2.55"/><circle cx="233.4" cy="175.3" r="2.55"/><circle cx="226.7" cy="178.6" r="2.55"/><circle cx="232.6" cy="181.1" r="2.55"/><circle cx="235.1" cy="171.1" r="2.55"/><circle cx="241.0" cy="173.6" r="2.55"/><circle cx="237.6" cy="177.8" r="2.55"/><circle cx="240.1" cy="184.5" r="2.55"/><circle cx="244.3" cy="168.5" r="2.55"/><circle cx="245.2" cy="173.6" r="2.55"/><circle cx="246.8" cy="178.6" r="2.55"/><circle cx="251.1" cy="171.9" r="2.55"/><circle cx="254.4" cy="168.5" r="2.55"/><circle cx="255.3" cy="175.3" r="2.55"/><circle cx="260.3" cy="181.1" r="2.55"/><circle cx="261.1" cy="174.4" r="2.55"/><circle cx="262.0" cy="167.7" r="2.55"/><circle cx="267.9" cy="168.2" r="2.55"/><circle cx="267.0" cy="176.1" r="2.55"/><circle cx="270.4" cy="184.5" r="2.55"/><circle cx="273.7" cy="174.4" r="2.55"/><circle cx="275.4" cy="177.8" r="2.55"/><circle cx="279.3" cy="178.9" r="2.55"/><circle cx="283.0" cy="176.7" r="2.55"/><circle cx="306.8" cy="163.2" r="2.55"/><circle cx="306.8" cy="169.2" r="2.55"/><circle cx="292.7" cy="165.2" r="2.55"/><circle cx="294.1" cy="169.2" r="2.55"/><circle cx="325.8" cy="168.8" r="2.55"/><circle cx="315.3" cy="173.9" r="2.55"/><circle cx="320.8" cy="174.9" r="2.55"/><circle cx="317.7" cy="188.8" r="2.55"/><circle cx="282.0" cy="174.3" r="2.55"/><circle cx="289.1" cy="176.3" r="2.55"/><circle cx="291.1" cy="182.4" r="2.55"/><circle cx="297.2" cy="179.3" r="2.55"/><circle cx="300.2" cy="183.4" r="2.55"/><circle cx="305.2" cy="178.3" r="2.55"/><circle cx="309.3" cy="177.3" r="2.55"/><circle cx="313.3" cy="182.4" r="2.55"/><circle cx="306.2" cy="183.4" r="2.55"/><circle cx="304.2" cy="172.3" r="2.55"/><circle cx="271.1" cy="195.7" r="2.55"/></g></g><g clip-path="url(#c2)" stroke="#140c0c" stroke-width="0.9"><g fill="#dc1c24"><circle cx="185.2" cy="293.3" r="2.55"/><circle cx="208.2" cy="279.4" r="2.55"/><circle cx="207.5" cy="289.0" r="2.55"/><circle cx="210.8" cy="284.0" r="2.55"/><circle cx="193.2" cy="290.0" r="2.55"/><circle cx="275.2" cy="253.8" r="2.55"/><circle cx="226.9" cy="288.8" r="2.55"/><circle cx="246.6" cy="255.7" r="2.55"/><circle cx="244.6" cy="289.1" r="2.55"/><circle cx="208.3" cy="290.7" r="2.55"/><circle cx="205.4" cy="278.3" r="2.55"/><circle cx="185.6" cy="286.3" r="2.55"/><circle cx="249.5" cy="259.2" r="2.55"/><circle cx="287.1" cy="285.9" r="2.55"/><circle cx="273.9" cy="267.2" r="2.55"/><circle cx="192.7" cy="293.4" r="2.55"/><circle cx="252.2" cy="254.7" r="2.55"/><circle cx="197.1" cy="288.6" r="2.55"/><circle cx="187.2" cy="287.8" r="2.55"/><circle cx="200.4" cy="282.8" r="2.55"/><circle cx="220.0" cy="266.6" r="2.55"/><circle cx="202.1" cy="285.0" r="2.55"/><circle cx="203.4" cy="284.2" r="2.55"/><circle cx="205.5" cy="290.8" r="2.55"/><circle cx="233.6" cy="273.2" r="2.55"/><circle cx="250.7" cy="269.9" r="2.55"/><circle cx="226.9" cy="275.0" r="2.55"/><circle cx="285.5" cy="287.9" r="2.55"/><circle cx="291.0" cy="253.3" r="2.55"/><circle cx="304.7" cy="278.9" r="2.55"/><circle cx="306.2" cy="274.0" r="2.55"/><circle cx="264.2" cy="285.6" r="2.55"/><circle cx="295.6" cy="253.3" r="2.55"/><circle cx="218.2" cy="284.7" r="2.55"/><circle cx="252.8" cy="291.0" r="2.55"/><circle cx="216.3" cy="280.1" r="2.55"/><circle cx="200.5" cy="273.3" r="2.55"/><circle cx="196.0" cy="285.0" r="2.55"/><circle cx="261.2" cy="275.9" r="2.55"/><circle cx="210.1" cy="286.9" r="2.55"/><circle cx="186.5" cy="282.4" r="2.55"/><circle cx="214.8" cy="281.5" r="2.55"/><circle cx="220.6" cy="294.2" r="2.55"/><circle cx="233.5" cy="273.9" r="2.55"/><circle cx="198.7" cy="276.2" r="2.55"/><circle cx="229.1" cy="282.8" r="2.55"/><circle cx="291.2" cy="283.2" r="2.55"/><circle cx="277.3" cy="281.8" r="2.55"/><circle cx="244.4" cy="285.8" r="2.55"/><circle cx="299.3" cy="256.9" r="2.55"/><circle cx="185.5" cy="291.8" r="2.55"/><circle cx="247.2" cy="292.5" r="2.55"/><circle cx="237.2" cy="286.1" r="2.55"/><circle cx="242.2" cy="283.5" r="2.55"/><circle cx="225.2" cy="287.2" r="2.55"/><circle cx="223.0" cy="266.3" r="2.55"/><circle cx="257.7" cy="256.2" r="2.55"/><circle cx="225.5" cy="289.0" r="2.55"/><circle cx="304.8" cy="259.4" r="2.55"/><circle cx="255.6" cy="273.4" r="2.55"/><circle cx="281.7" cy="273.1" r="2.55"/><circle cx="249.7" cy="274.9" r="2.55"/><circle cx="228.9" cy="292.3" r="2.55"/><circle cx="295.0" cy="286.3" r="2.55"/><circle cx="240.0" cy="280.0" r="2.55"/><circle cx="227.9" cy="278.0" r="2.55"/><circle cx="206.3" cy="276.6" r="2.55"/><circle cx="296.8" cy="275.7" r="2.55"/><circle cx="308.8" cy="275.3" r="2.55"/><circle cx="204.5" cy="276.3" r="2.55"/><circle cx="236.4" cy="286.2" r="2.55"/><circle cx="290.3" cy="274.4" r="2.55"/><circle cx="209.6" cy="280.9" r="2.55"/><circle cx="218.3" cy="283.7" r="2.55"/><circle cx="309.6" cy="267.8" r="2.55"/><circle cx="200.2" cy="274.0" r="2.55"/><circle cx="250.3" cy="287.0" r="2.55"/><circle cx="281.3" cy="264.4" r="2.55"/><circle cx="197.4" cy="293.7" r="2.55"/><circle cx="191.8" cy="293.9" r="2.55"/><circle cx="305.0" cy="265.7" r="2.55"/><circle cx="216.2" cy="265.4" r="2.55"/><circle cx="291.8" cy="263.4" r="2.55"/><circle cx="287.0" cy="263.3" r="2.55"/><circle cx="305.0" cy="267.1" r="2.55"/><circle cx="215.4" cy="276.3" r="2.55"/><circle cx="212.7" cy="274.6" r="2.55"/><circle cx="245.5" cy="286.0" r="2.55"/><circle cx="306.4" cy="261.6" r="2.55"/><circle cx="199.4" cy="284.0" r="2.55"/><circle cx="189.4" cy="288.9" r="2.55"/><circle cx="240.4" cy="287.9" r="2.55"/><circle cx="204.9" cy="277.9" r="2.55"/><circle cx="232.1" cy="292.5" r="2.55"/><circle cx="241.6" cy="261.2" r="2.55"/><circle cx="217.6" cy="291.7" r="2.55"/><circle cx="231.0" cy="267.4" r="2.55"/><circle cx="281.5" cy="266.9" r="2.55"/><circle cx="195.8" cy="275.8" r="2.55"/><circle cx="222.1" cy="264.0" r="2.55"/><circle cx="213.3" cy="268.9" r="2.55"/><circle cx="220.3" cy="275.5" r="2.55"/><circle cx="281.9" cy="287.1" r="2.55"/><circle cx="270.0" cy="279.1" r="2.55"/><circle cx="236.6" cy="281.5" r="2.55"/><circle cx="216.1" cy="290.2" r="2.55"/><circle cx="299.1" cy="276.2" r="2.55"/><circle cx="209.8" cy="275.2" r="2.55"/><circle cx="189.9" cy="280.6" r="2.55"/><circle cx="207.5" cy="291.0" r="2.55"/><circle cx="289.3" cy="282.1" r="2.55"/><circle cx="190.4" cy="293.2" r="2.55"/><circle cx="283.9" cy="259.7" r="2.55"/><circle cx="278.7" cy="254.9" r="2.55"/><circle cx="234.2" cy="284.9" r="2.55"/><circle cx="220.1" cy="265.5" r="2.55"/><circle cx="238.0" cy="291.4" r="2.55"/><circle cx="277.3" cy="285.3" r="2.55"/><circle cx="241.6" cy="258.3" r="2.55"/><circle cx="238.5" cy="275.9" r="2.55"/><circle cx="272.8" cy="284.7" r="2.55"/><circle cx="253.3" cy="292.8" r="2.55"/><circle cx="223.8" cy="265.8" r="2.55"/><circle cx="249.4" cy="272.1" r="2.55"/><circle cx="228.9" cy="269.8" r="2.55"/><circle cx="202.7" cy="284.1" r="2.55"/><circle cx="286.9" cy="273.1" r="2.55"/><circle cx="206.2" cy="286.3" r="2.55"/><circle cx="242.6" cy="285.1" r="2.55"/><circle cx="199.3" cy="277.7" r="2.55"/><circle cx="210.8" cy="267.8" r="2.55"/><circle cx="209.6" cy="286.7" r="2.55"/><circle cx="199.1" cy="278.7" r="2.55"/><circle cx="186.4" cy="296.7" r="2.55"/><circle cx="195.5" cy="289.3" r="2.55"/><circle cx="186.0" cy="295.1" r="2.55"/><circle cx="263.5" cy="290.9" r="2.55"/><circle cx="188.5" cy="291.6" r="2.55"/><circle cx="222.0" cy="268.0" r="2.55"/><circle cx="290.7" cy="287.6" r="2.55"/><circle cx="283.1" cy="284.8" r="2.55"/><circle cx="225.8" cy="266.8" r="2.55"/><circle cx="231.2" cy="288.1" r="2.55"/><circle cx="190.2" cy="286.5" r="2.55"/><circle cx="287.5" cy="279.4" r="2.55"/><circle cx="303.1" cy="267.6" r="2.55"/><circle cx="204.7" cy="276.5" r="2.55"/><circle cx="195.0" cy="288.6" r="2.55"/><circle cx="275.4" cy="251.6" r="2.55"/><circle cx="291.9" cy="281.5" r="2.55"/><circle cx="220.4" cy="283.8" r="2.55"/><circle cx="268.3" cy="286.0" r="2.55"/><circle cx="205.6" cy="276.1" r="2.55"/><circle cx="195.6" cy="279.5" r="2.55"/><circle cx="306.4" cy="277.2" r="2.55"/><circle cx="306.8" cy="278.3" r="2.55"/><circle cx="286.4" cy="253.5" r="2.55"/><circle cx="304.1" cy="266.9" r="2.55"/><circle cx="222.4" cy="273.0" r="2.55"/><circle cx="188.5" cy="278.2" r="2.55"/><circle cx="240.9" cy="259.7" r="2.55"/><circle cx="199.3" cy="274.9" r="2.55"/><circle cx="253.5" cy="258.1" r="2.55"/><circle cx="216.7" cy="266.8" r="2.55"/><circle cx="216.4" cy="279.1" r="2.55"/><circle cx="292.9" cy="272.2" r="2.55"/><circle cx="279.6" cy="256.0" r="2.55"/><circle cx="275.2" cy="255.7" r="2.55"/><circle cx="234.0" cy="264.2" r="2.55"/><circle cx="211.6" cy="274.6" r="2.55"/><circle cx="238.2" cy="289.9" r="2.55"/><circle cx="294.0" cy="272.3" r="2.55"/><circle cx="293.8" cy="257.9" r="2.55"/><circle cx="227.7" cy="286.0" r="2.55"/><circle cx="277.2" cy="290.2" r="2.55"/><circle cx="300.7" cy="273.7" r="2.55"/><circle cx="209.1" cy="279.5" r="2.55"/><circle cx="198.8" cy="291.0" r="2.55"/><circle cx="254.3" cy="265.1" r="2.55"/><circle cx="232.6" cy="263.5" r="2.55"/><circle cx="252.3" cy="281.5" r="2.55"/><circle cx="203.9" cy="282.2" r="2.55"/><circle cx="287.3" cy="278.4" r="2.55"/><circle cx="244.5" cy="261.7" r="2.55"/><circle cx="234.2" cy="289.4" r="2.55"/><circle cx="206.2" cy="277.8" r="2.55"/><circle cx="185.7" cy="287.6" r="2.55"/><circle cx="187.6" cy="284.6" r="2.55"/><circle cx="190.7" cy="276.5" r="2.55"/><circle cx="219.1" cy="271.7" r="2.55"/><circle cx="217.8" cy="281.3" r="2.55"/><circle cx="255.1" cy="284.6" r="2.55"/><circle cx="281.8" cy="276.9" r="2.55"/><circle cx="230.4" cy="268.8" r="2.55"/><circle cx="294.1" cy="285.9" r="2.55"/><circle cx="223.0" cy="286.7" r="2.55"/><circle cx="227.2" cy="271.1" r="2.55"/><circle cx="185.9" cy="294.1" r="2.55"/><circle cx="206.1" cy="269.6" r="2.55"/><circle cx="223.6" cy="285.4" r="2.55"/><circle cx="302.2" cy="263.3" r="2.55"/><circle cx="257.6" cy="293.5" r="2.55"/><circle cx="281.8" cy="268.6" r="2.55"/><circle cx="193.5" cy="283.9" r="2.55"/><circle cx="205.6" cy="275.4" r="2.55"/><circle cx="260.4" cy="288.3" r="2.55"/><circle cx="209.6" cy="287.7" r="2.55"/><circle cx="260.1" cy="255.3" r="2.55"/><circle cx="208.5" cy="282.2" r="2.55"/><circle cx="265.0" cy="290.3" r="2.55"/><circle cx="225.8" cy="285.8" r="2.55"/><circle cx="235.7" cy="282.3" r="2.55"/><circle cx="186.7" cy="295.2" r="2.55"/><circle cx="308.4" cy="256.0" r="2.55"/><circle cx="204.5" cy="272.2" r="2.55"/><circle cx="196.2" cy="291.6" r="2.55"/><circle cx="277.6" cy="261.9" r="2.55"/><circle cx="280.4" cy="282.9" r="2.55"/><circle cx="281.6" cy="290.9" r="2.55"/><circle cx="219.8" cy="279.5" r="2.55"/><circle cx="201.5" cy="269.7" r="2.55"/><circle cx="266.9" cy="283.9" r="2.55"/><circle cx="308.7" cy="260.0" r="2.55"/><circle cx="192.5" cy="284.5" r="2.55"/><circle cx="207.7" cy="293.8" r="2.55"/><circle cx="203.7" cy="273.5" r="2.55"/><circle cx="282.3" cy="261.1" r="2.55"/><circle cx="297.9" cy="256.1" r="2.55"/><circle cx="193.2" cy="287.9" r="2.55"/><circle cx="293.0" cy="253.8" r="2.55"/><circle cx="236.2" cy="291.1" r="2.55"/><circle cx="210.4" cy="288.3" r="2.55"/><circle cx="222.3" cy="294.3" r="2.55"/><circle cx="256.2" cy="259.3" r="2.55"/><circle cx="293.7" cy="261.5" r="2.55"/><circle cx="245.7" cy="289.8" r="2.55"/><circle cx="257.4" cy="289.2" r="2.55"/><circle cx="295.4" cy="264.7" r="2.55"/><circle cx="292.9" cy="258.4" r="2.55"/><circle cx="299.0" cy="257.6" r="2.55"/><circle cx="197.2" cy="275.2" r="2.55"/><circle cx="196.3" cy="279.7" r="2.55"/><circle cx="274.5" cy="287.7" r="2.55"/><circle cx="189.1" cy="279.0" r="2.55"/><circle cx="187.5" cy="296.6" r="2.55"/><circle cx="294.8" cy="256.3" r="2.55"/><circle cx="270.7" cy="257.8" r="2.55"/><circle cx="247.0" cy="290.8" r="2.55"/><circle cx="211.9" cy="294.2" r="2.55"/><circle cx="230.3" cy="259.3" r="2.55"/><circle cx="271.3" cy="292.1" r="2.55"/><circle cx="237.4" cy="293.0" r="2.55"/><circle cx="309.8" cy="255.1" r="2.55"/><circle cx="300.8" cy="260.9" r="2.55"/><circle cx="199.5" cy="292.0" r="2.55"/><circle cx="298.6" cy="254.3" r="2.55"/><circle cx="278.3" cy="286.2" r="2.55"/><circle cx="259.0" cy="293.8" r="2.55"/><circle cx="263.7" cy="282.9" r="2.55"/><circle cx="261.6" cy="280.3" r="2.55"/><circle cx="261.6" cy="263.0" r="2.55"/><circle cx="244.2" cy="283.3" r="2.55"/><circle cx="300.9" cy="269.1" r="2.55"/><circle cx="250.9" cy="286.6" r="2.55"/><circle cx="206.5" cy="290.6" r="2.55"/><circle cx="265.1" cy="286.3" r="2.55"/><circle cx="229.6" cy="287.2" r="2.55"/><circle cx="309.6" cy="270.5" r="2.55"/><circle cx="244.8" cy="286.2" r="2.55"/><circle cx="203.7" cy="287.1" r="2.55"/><circle cx="207.3" cy="287.6" r="2.55"/><circle cx="225.5" cy="268.8" r="2.55"/><circle cx="196.4" cy="287.1" r="2.55"/><circle cx="210.2" cy="278.6" r="2.55"/><circle cx="240.3" cy="270.3" r="2.55"/><circle cx="221.9" cy="275.3" r="2.55"/><circle cx="257.3" cy="290.9" r="2.55"/><circle cx="306.4" cy="272.2" r="2.55"/><circle cx="60.8" cy="305.9" r="2.55"/><circle cx="67.6" cy="304.1" r="2.55"/><circle cx="73.2" cy="314.9" r="2.55"/><circle cx="78.5" cy="311.5" r="2.55"/><circle cx="79.4" cy="308.2" r="2.55"/><circle cx="78.5" cy="285.3" r="2.55"/><circle cx="86.4" cy="294.7" r="2.55"/><circle cx="92.0" cy="292.7" r="2.55"/><circle cx="92.7" cy="301.7" r="2.55"/><circle cx="96.0" cy="296.3" r="2.55"/><circle cx="98.7" cy="305.3" r="2.55"/><circle cx="103.2" cy="303.2" r="2.55"/><circle cx="113.8" cy="273.0" r="2.55"/><circle cx="115.8" cy="294.4" r="2.55"/><circle cx="115.7" cy="300.3" r="2.55"/><circle cx="118.4" cy="295.2" r="2.55"/><circle cx="106.1" cy="257.5" r="2.55"/><circle cx="150.1" cy="257.5" r="2.55"/><circle cx="122.5" cy="286.6" r="2.55"/><circle cx="117.3" cy="293.8" r="2.55"/><circle cx="123.2" cy="292.0" r="2.55"/><circle cx="126.3" cy="299.8" r="2.55"/><circle cx="122.5" cy="305.0" r="2.55"/><circle cx="129.9" cy="288.9" r="2.55"/><circle cx="133.7" cy="287.1" r="2.55"/><circle cx="138.2" cy="287.1" r="2.55"/><circle cx="137.1" cy="298.7" r="2.55"/><circle cx="132.6" cy="306.1" r="2.55"/><circle cx="134.4" cy="303.9" r="2.55"/><circle cx="137.1" cy="308.3" r="2.55"/><circle cx="140.4" cy="298.7" r="2.55"/><circle cx="141.5" cy="291.5" r="2.55"/><circle cx="144.9" cy="290.4" r="2.55"/><circle cx="144.9" cy="299.4" r="2.55"/><circle cx="149.4" cy="295.6" r="2.55"/><circle cx="153.4" cy="293.8" r="2.55"/><circle cx="155.0" cy="281.5" r="2.55"/><circle cx="158.3" cy="291.5" r="2.55"/><circle cx="162.0" cy="294.6" r="2.55"/><circle cx="162.4" cy="278.0" r="2.55"/><circle cx="160.3" cy="299.5" r="2.55"/><circle cx="167.3" cy="293.8" r="2.55"/><circle cx="175.7" cy="277.4" r="2.55"/><circle cx="167.8" cy="292.1" r="2.55"/><circle cx="162.9" cy="297.9" r="2.55"/><circle cx="173.7" cy="290.1" r="2.55"/><circle cx="184.5" cy="296.0" r="2.55"/><circle cx="192.4" cy="297.9" r="2.55"/><circle cx="191.4" cy="286.2" r="2.55"/><circle cx="197.3" cy="270.5" r="2.55"/><circle cx="199.2" cy="268.1" r="2.55"/><circle cx="203.1" cy="269.5" r="2.55"/><circle cx="202.2" cy="274.4" r="2.55"/><circle cx="197.3" cy="280.3" r="2.55"/><circle cx="205.1" cy="287.2" r="2.55"/><circle cx="208.0" cy="283.2" r="2.55"/><circle cx="212.9" cy="272.5" r="2.55"/><circle cx="216.9" cy="274.4" r="2.55"/><circle cx="211.4" cy="289.1" r="2.55"/><circle cx="207.1" cy="291.7" r="2.55"/><circle cx="222.7" cy="262.6" r="2.55"/><circle cx="227.6" cy="288.1" r="2.55"/><circle cx="226.3" cy="294.9" r="2.55"/><circle cx="221.4" cy="292.2" r="2.55"/><circle cx="189.0" cy="288.5" r="2.55"/><circle cx="243.0" cy="249.7" r="2.55"/><circle cx="288.6" cy="247.2" r="2.55"/><circle cx="250.5" cy="259.5" r="2.55"/><circle cx="256.4" cy="259.5" r="2.55"/><circle cx="271.1" cy="256.6" r="2.55"/><circle cx="284.4" cy="256.2" r="2.55"/><circle cx="291.7" cy="259.5" r="2.55"/><circle cx="236.8" cy="262.5" r="2.55"/><circle cx="230.9" cy="264.4" r="2.55"/><circle cx="226.0" cy="262.5" r="2.55"/><circle cx="247.5" cy="264.4" r="2.55"/><circle cx="257.4" cy="264.4" r="2.55"/><circle cx="277.0" cy="264.4" r="2.55"/><circle cx="279.9" cy="262.5" r="2.55"/><circle cx="227.0" cy="272.3" r="2.55"/><circle cx="256.4" cy="271.3" r="2.55"/><circle cx="260.3" cy="269.3" r="2.55"/><circle cx="287.7" cy="269.3" r="2.55"/><circle cx="236.8" cy="279.1" r="2.55"/><circle cx="257.4" cy="284.0" r="2.55"/><circle cx="262.3" cy="280.1" r="2.55"/><circle cx="272.1" cy="280.1" r="2.55"/><circle cx="280.9" cy="279.1" r="2.55"/><circle cx="283.8" cy="282.1" r="2.55"/><circle cx="292.5" cy="279.0" r="2.55"/><circle cx="231.9" cy="286.0" r="2.55"/><circle cx="238.7" cy="288.0" r="2.55"/><circle cx="250.5" cy="288.9" r="2.55"/><circle cx="257.4" cy="288.9" r="2.55"/><circle cx="264.2" cy="289.9" r="2.55"/><circle cx="277.9" cy="288.9" r="2.55"/><circle cx="283.8" cy="287.0" r="2.55"/><circle cx="290.6" cy="286.9" r="2.55"/><circle cx="227.9" cy="294.8" r="2.55"/><circle cx="239.7" cy="293.8" r="2.55"/><circle cx="248.8" cy="292.9" r="2.55"/><circle cx="264.5" cy="294.9" r="2.55"/><circle cx="279.9" cy="292.9" r="2.55"/><circle cx="285.8" cy="295.8" r="2.55"/><circle cx="310.2" cy="246.9" r="2.55"/><circle cx="314.0" cy="246.9" r="2.55"/><circle cx="323.4" cy="251.6" r="2.55"/><circle cx="343.1" cy="251.6" r="2.55"/><circle cx="333.7" cy="255.9" r="2.55"/><circle cx="316.8" cy="253.5" r="2.55"/><circle cx="301.8" cy="254.4" r="2.55"/><circle cx="309.3" cy="261.5" r="2.55"/><circle cx="297.1" cy="261.0" r="2.55"/><circle cx="286.8" cy="260.0" r="2.55"/><circle cx="325.8" cy="264.7" r="2.55"/><circle cx="330.9" cy="265.3" r="2.55"/><circle cx="334.0" cy="264.2" r="2.55"/><circle cx="314.0" cy="266.6" r="2.55"/><circle cx="318.3" cy="267.9" r="2.55"/><circle cx="299.0" cy="269.0" r="2.55"/><circle cx="298.0" cy="274.1" r="2.55"/><circle cx="303.6" cy="275.0" r="2.55"/><circle cx="307.4" cy="275.6" r="2.55"/><circle cx="286.8" cy="279.7" r="2.55"/><circle cx="299.5" cy="280.7" r="2.55"/><circle cx="322.8" cy="277.9" r="2.55"/><circle cx="337.8" cy="278.4" r="2.55"/><circle cx="302.1" cy="285.7" r="2.55"/><circle cx="294.1" cy="286.5" r="2.55"/><circle cx="284.9" cy="288.9" r="2.55"/><circle cx="303.6" cy="291.0" r="2.55"/><circle cx="329.0" cy="286.9" r="2.55"/><circle cx="287.1" cy="296.4" r="2.55"/><circle cx="198.6" cy="316.4" r="2.55"/><circle cx="192.6" cy="299.6" r="2.55"/><circle cx="152.2" cy="294.4" r="2.55"/><circle cx="185.9" cy="295.8" r="2.55"/><circle cx="237.9" cy="295.7" r="2.55"/><circle cx="242.4" cy="292.3" r="2.55"/></g><g fill="#f2b028"><circle cx="285.9" cy="264.9" r="2.55"/><circle cx="212.3" cy="282.5" r="2.55"/><circle cx="209.6" cy="268.8" r="2.55"/><circle cx="261.1" cy="272.7" r="2.55"/><circle cx="286.4" cy="274.6" r="2.55"/><circle cx="246.9" cy="275.1" r="2.55"/><circle cx="216.3" cy="289.3" r="2.55"/><circle cx="250.4" cy="282.2" r="2.55"/><circle cx="282.1" cy="265.0" r="2.55"/><circle cx="248.1" cy="255.6" r="2.55"/><circle cx="303.9" cy="261.7" r="2.55"/><circle cx="265.9" cy="256.8" r="2.55"/><circle cx="304.5" cy="267.7" r="2.55"/><circle cx="243.3" cy="276.2" r="2.55"/><circle cx="235.8" cy="268.1" r="2.55"/><circle cx="253.5" cy="278.3" r="2.55"/><circle cx="223.8" cy="269.3" r="2.55"/><circle cx="249.1" cy="269.7" r="2.55"/><circle cx="281.5" cy="257.7" r="2.55"/><circle cx="293.9" cy="267.8" r="2.55"/><circle cx="277.3" cy="257.7" r="2.55"/><circle cx="247.4" cy="272.3" r="2.55"/><circle cx="298.8" cy="253.1" r="2.55"/><circle cx="233.7" cy="271.0" r="2.55"/><circle cx="263.8" cy="277.1" r="2.55"/><circle cx="309.2" cy="269.3" r="2.55"/><circle cx="271.3" cy="251.8" r="2.55"/><circle cx="228.6" cy="275.1" r="2.55"/><circle cx="206.7" cy="277.6" r="2.55"/><circle cx="288.2" cy="265.2" r="2.55"/><circle cx="208.9" cy="274.9" r="2.55"/><circle cx="218.7" cy="289.5" r="2.55"/><circle cx="303.9" cy="267.7" r="2.55"/><circle cx="249.1" cy="275.9" r="2.55"/><circle cx="225.1" cy="283.0" r="2.55"/><circle cx="255.2" cy="267.9" r="2.55"/><circle cx="263.6" cy="259.5" r="2.55"/><circle cx="190.1" cy="274.2" r="2.55"/><circle cx="274.6" cy="262.0" r="2.55"/><circle cx="270.5" cy="266.1" r="2.55"/><circle cx="190.9" cy="278.8" r="2.55"/><circle cx="201.0" cy="289.7" r="2.55"/><circle cx="253.0" cy="263.7" r="2.55"/><circle cx="268.8" cy="261.6" r="2.55"/><circle cx="237.7" cy="269.7" r="2.55"/><circle cx="255.4" cy="267.3" r="2.55"/><circle cx="261.1" cy="264.4" r="2.55"/><circle cx="231.5" cy="279.2" r="2.55"/><circle cx="251.2" cy="276.6" r="2.55"/><circle cx="213.3" cy="282.3" r="2.55"/><circle cx="249.1" cy="277.8" r="2.55"/><circle cx="282.0" cy="253.6" r="2.55"/><circle cx="231.5" cy="259.2" r="2.55"/><circle cx="288.2" cy="256.0" r="2.55"/><circle cx="253.6" cy="286.0" r="2.55"/><circle cx="285.1" cy="252.6" r="2.55"/><circle cx="304.6" cy="280.6" r="2.55"/><circle cx="248.6" cy="279.6" r="2.55"/><circle cx="245.2" cy="269.6" r="2.55"/><circle cx="240.7" cy="277.8" r="2.55"/><circle cx="257.9" cy="255.8" r="2.55"/><circle cx="219.5" cy="271.1" r="2.55"/><circle cx="212.3" cy="277.4" r="2.55"/><circle cx="294.4" cy="264.2" r="2.55"/><circle cx="192.2" cy="282.5" r="2.55"/><circle cx="263.3" cy="265.9" r="2.55"/><circle cx="252.3" cy="277.5" r="2.55"/><circle cx="267.2" cy="276.7" r="2.55"/><circle cx="300.2" cy="258.0" r="2.55"/><circle cx="247.4" cy="279.8" r="2.55"/><circle cx="263.4" cy="261.2" r="2.55"/><circle cx="270.3" cy="276.3" r="2.55"/><circle cx="198.9" cy="295.4" r="2.55"/><circle cx="271.2" cy="253.2" r="2.55"/><circle cx="214.0" cy="277.9" r="2.55"/><circle cx="202.0" cy="280.7" r="2.55"/><circle cx="218.1" cy="265.5" r="2.55"/><circle cx="248.6" cy="270.7" r="2.55"/><circle cx="266.6" cy="274.4" r="2.55"/><circle cx="274.7" cy="267.9" r="2.55"/><circle cx="233.2" cy="272.9" r="2.55"/><circle cx="225.5" cy="282.4" r="2.55"/><circle cx="274.0" cy="267.7" r="2.55"/><circle cx="263.6" cy="274.6" r="2.55"/><circle cx="293.5" cy="253.3" r="2.55"/><circle cx="289.0" cy="283.8" r="2.55"/><circle cx="241.6" cy="259.6" r="2.55"/><circle cx="286.4" cy="265.3" r="2.55"/><circle cx="268.2" cy="265.4" r="2.55"/><circle cx="137.7" cy="279.9" r="2.55"/><circle cx="125.9" cy="296.0" r="2.55"/><circle cx="135.9" cy="292.7" r="2.55"/><circle cx="138.2" cy="295.6" r="2.55"/><circle cx="145.6" cy="293.1" r="2.55"/><circle cx="147.8" cy="302.7" r="2.55"/><circle cx="150.1" cy="289.7" r="2.55"/><circle cx="157.9" cy="286.6" r="2.55"/><circle cx="161.6" cy="286.9" r="2.55"/><circle cx="165.8" cy="283.9" r="2.55"/><circle cx="168.4" cy="280.3" r="2.55"/><circle cx="173.7" cy="272.5" r="2.55"/><circle cx="169.8" cy="280.7" r="2.55"/><circle cx="170.8" cy="283.6" r="2.55"/><circle cx="177.6" cy="282.3" r="2.55"/><circle cx="182.5" cy="276.8" r="2.55"/><circle cx="181.6" cy="284.2" r="2.55"/><circle cx="178.6" cy="286.6" r="2.55"/><circle cx="185.5" cy="284.2" r="2.55"/><circle cx="188.4" cy="279.3" r="2.55"/><circle cx="179.6" cy="292.1" r="2.55"/><circle cx="186.5" cy="291.7" r="2.55"/><circle cx="191.4" cy="292.6" r="2.55"/><circle cx="171.6" cy="295.6" r="2.55"/><circle cx="194.3" cy="275.4" r="2.55"/><circle cx="207.1" cy="264.6" r="2.55"/><circle cx="207.1" cy="267.5" r="2.55"/><circle cx="211.4" cy="267.5" r="2.55"/><circle cx="203.1" cy="281.3" r="2.55"/><circle cx="200.2" cy="286.2" r="2.55"/><circle cx="196.3" cy="287.2" r="2.55"/><circle cx="209.0" cy="277.4" r="2.55"/><circle cx="212.9" cy="278.3" r="2.55"/><circle cx="212.2" cy="297.1" r="2.55"/><circle cx="215.9" cy="287.2" r="2.55"/><circle cx="219.8" cy="276.0" r="2.55"/><circle cx="221.8" cy="266.6" r="2.55"/><circle cx="227.8" cy="268.2" r="2.55"/><circle cx="225.7" cy="280.3" r="2.55"/><circle cx="221.8" cy="284.2" r="2.55"/><circle cx="220.8" cy="288.5" r="2.55"/><circle cx="224.7" cy="286.2" r="2.55"/><circle cx="191.4" cy="283.2" r="2.55"/><circle cx="271.1" cy="240.5" r="2.55"/><circle cx="251.5" cy="249.7" r="2.55"/><circle cx="254.4" cy="252.3" r="2.55"/><circle cx="261.3" cy="253.6" r="2.55"/><circle cx="264.2" cy="251.1" r="2.55"/><circle cx="268.1" cy="249.7" r="2.55"/><circle cx="275.0" cy="247.2" r="2.55"/><circle cx="277.9" cy="250.3" r="2.55"/><circle cx="292.7" cy="249.7" r="2.55"/><circle cx="244.6" cy="257.5" r="2.55"/><circle cx="261.3" cy="260.1" r="2.55"/><circle cx="267.2" cy="255.6" r="2.55"/><circle cx="276.0" cy="258.5" r="2.55"/><circle cx="279.9" cy="258.5" r="2.55"/><circle cx="289.6" cy="255.9" r="2.55"/><circle cx="245.6" cy="260.5" r="2.55"/><circle cx="234.8" cy="268.3" r="2.55"/><circle cx="241.7" cy="266.4" r="2.55"/><circle cx="253.4" cy="266.4" r="2.55"/><circle cx="262.3" cy="264.4" r="2.55"/><circle cx="267.2" cy="262.5" r="2.55"/><circle cx="272.1" cy="265.4" r="2.55"/><circle cx="283.8" cy="264.4" r="2.55"/><circle cx="288.7" cy="264.4" r="2.55"/><circle cx="292.5" cy="264.5" r="2.55"/><circle cx="230.9" cy="275.2" r="2.55"/><circle cx="236.8" cy="271.9" r="2.55"/><circle cx="239.7" cy="276.2" r="2.55"/><circle cx="245.6" cy="276.2" r="2.55"/><circle cx="246.6" cy="271.3" r="2.55"/><circle cx="251.5" cy="273.2" r="2.55"/><circle cx="264.2" cy="269.3" r="2.55"/><circle cx="267.2" cy="272.3" r="2.55"/><circle cx="271.1" cy="271.3" r="2.55"/><circle cx="275.0" cy="272.3" r="2.55"/><circle cx="277.9" cy="276.2" r="2.55"/><circle cx="281.9" cy="271.3" r="2.55"/><circle cx="284.9" cy="274.1" r="2.55"/><circle cx="289.1" cy="272.0" r="2.55"/><circle cx="292.6" cy="274.2" r="2.55"/><circle cx="227.0" cy="279.1" r="2.55"/><circle cx="232.8" cy="282.1" r="2.55"/><circle cx="241.7" cy="282.1" r="2.55"/><circle cx="248.5" cy="282.1" r="2.55"/><circle cx="254.4" cy="279.1" r="2.55"/><circle cx="267.2" cy="282.1" r="2.55"/><circle cx="275.0" cy="283.0" r="2.55"/><circle cx="289.1" cy="283.0" r="2.55"/><circle cx="228.9" cy="287.0" r="2.55"/><circle cx="233.6" cy="291.0" r="2.55"/><circle cx="245.6" cy="287.0" r="2.55"/><circle cx="269.1" cy="287.0" r="2.55"/><circle cx="273.9" cy="286.0" r="2.55"/><circle cx="287.7" cy="291.9" r="2.55"/><circle cx="307.0" cy="239.0" r="2.55"/><circle cx="307.0" cy="241.6" r="2.55"/><circle cx="315.3" cy="239.0" r="2.55"/><circle cx="320.9" cy="244.1" r="2.55"/><circle cx="294.3" cy="246.5" r="2.55"/><circle cx="326.2" cy="251.0" r="2.55"/><circle cx="306.5" cy="252.9" r="2.55"/><circle cx="295.8" cy="256.3" r="2.55"/><circle cx="300.8" cy="257.2" r="2.55"/><circle cx="313.0" cy="257.2" r="2.55"/><circle cx="317.7" cy="259.7" r="2.55"/><circle cx="305.5" cy="259.7" r="2.55"/><circle cx="297.1" cy="265.7" r="2.55"/><circle cx="300.8" cy="264.2" r="2.55"/><circle cx="304.6" cy="263.8" r="2.55"/><circle cx="309.3" cy="266.2" r="2.55"/><circle cx="303.6" cy="268.5" r="2.55"/><circle cx="294.3" cy="270.4" r="2.55"/><circle cx="285.8" cy="269.4" r="2.55"/><circle cx="290.5" cy="274.1" r="2.55"/><circle cx="283.0" cy="278.8" r="2.55"/><circle cx="222.2" cy="289.0" r="2.55"/></g></g><g clip-path="url(#c3)" stroke="#140c0c" stroke-width="0.9"><g fill="#dc1c24"><circle cx="245.6" cy="418.5" r="2.55"/><circle cx="183.4" cy="409.7" r="2.55"/><circle cx="241.0" cy="417.2" r="2.55"/><circle cx="242.5" cy="418.7" r="2.55"/><circle cx="244.8" cy="404.8" r="2.55"/><circle cx="268.5" cy="408.2" r="2.55"/><circle cx="185.4" cy="411.8" r="2.55"/><circle cx="209.1" cy="397.0" r="2.55"/><circle cx="193.4" cy="397.7" r="2.55"/><circle cx="254.5" cy="385.7" r="2.55"/><circle cx="311.7" cy="391.4" r="2.55"/><circle cx="199.2" cy="403.7" r="2.55"/><circle cx="180.8" cy="418.8" r="2.55"/><circle cx="293.4" cy="393.1" r="2.55"/><circle cx="294.4" cy="399.5" r="2.55"/><circle cx="244.5" cy="407.4" r="2.55"/><circle cx="285.8" cy="384.3" r="2.55"/><circle cx="222.7" cy="400.2" r="2.55"/><circle cx="218.5" cy="413.3" r="2.55"/><circle cx="258.2" cy="399.6" r="2.55"/><circle cx="203.8" cy="418.6" r="2.55"/><circle cx="285.7" cy="393.7" r="2.55"/><circle cx="290.7" cy="381.9" r="2.55"/><circle cx="283.5" cy="409.2" r="2.55"/><circle cx="267.0" cy="389.9" r="2.55"/><circle cx="271.8" cy="380.5" r="2.55"/><circle cx="218.8" cy="399.6" r="2.55"/><circle cx="222.1" cy="408.8" r="2.55"/><circle cx="300.4" cy="385.1" r="2.55"/><circle cx="200.1" cy="415.3" r="2.55"/><circle cx="192.4" cy="406.8" r="2.55"/><circle cx="289.4" cy="381.4" r="2.55"/><circle cx="311.5" cy="393.4" r="2.55"/><circle cx="218.4" cy="403.0" r="2.55"/><circle cx="244.0" cy="417.5" r="2.55"/><circle cx="215.8" cy="418.4" r="2.55"/><circle cx="259.0" cy="418.6" r="2.55"/><circle cx="278.0" cy="384.8" r="2.55"/><circle cx="219.4" cy="394.8" r="2.55"/><circle cx="192.6" cy="409.0" r="2.55"/><circle cx="197.4" cy="409.7" r="2.55"/><circle cx="229.5" cy="411.6" r="2.55"/><circle cx="202.4" cy="419.0" r="2.55"/><circle cx="291.2" cy="403.0" r="2.55"/><circle cx="199.7" cy="397.7" r="2.55"/><circle cx="195.5" cy="407.7" r="2.55"/><circle cx="250.7" cy="403.3" r="2.55"/><circle cx="196.8" cy="401.4" r="2.55"/><circle cx="304.5" cy="388.1" r="2.55"/><circle cx="255.3" cy="408.9" r="2.55"/><circle cx="184.1" cy="405.1" r="2.55"/><circle cx="212.4" cy="410.4" r="2.55"/><circle cx="185.4" cy="410.4" r="2.55"/><circle cx="287.5" cy="388.4" r="2.55"/><circle cx="191.6" cy="401.5" r="2.55"/><circle cx="223.7" cy="421.2" r="2.55"/><circle cx="282.9" cy="408.1" r="2.55"/><circle cx="307.5" cy="390.9" r="2.55"/><circle cx="197.8" cy="415.9" r="2.55"/><circle cx="299.4" cy="395.9" r="2.55"/><circle cx="285.9" cy="396.6" r="2.55"/><circle cx="288.9" cy="401.4" r="2.55"/><circle cx="219.5" cy="420.5" r="2.55"/><circle cx="304.9" cy="380.2" r="2.55"/><circle cx="283.9" cy="386.3" r="2.55"/><circle cx="210.6" cy="400.0" r="2.55"/><circle cx="211.2" cy="407.7" r="2.55"/><circle cx="270.5" cy="406.5" r="2.55"/><circle cx="283.5" cy="404.1" r="2.55"/><circle cx="304.3" cy="395.4" r="2.55"/><circle cx="191.5" cy="411.4" r="2.55"/><circle cx="224.8" cy="409.7" r="2.55"/><circle cx="182.2" cy="398.5" r="2.55"/><circle cx="235.3" cy="409.4" r="2.55"/><circle cx="224.3" cy="398.1" r="2.55"/><circle cx="291.5" cy="395.5" r="2.55"/><circle cx="191.6" cy="402.2" r="2.55"/><circle cx="238.3" cy="411.2" r="2.55"/><circle cx="297.5" cy="393.1" r="2.55"/><circle cx="232.1" cy="406.2" r="2.55"/><circle cx="246.9" cy="421.4" r="2.55"/><circle cx="180.0" cy="400.0" r="2.55"/><circle cx="240.0" cy="416.3" r="2.55"/><circle cx="226.5" cy="394.3" r="2.55"/><circle cx="293.8" cy="391.7" r="2.55"/><circle cx="302.6" cy="397.9" r="2.55"/><circle cx="190.0" cy="410.6" r="2.55"/><circle cx="306.4" cy="385.2" r="2.55"/><circle cx="269.3" cy="414.5" r="2.55"/><circle cx="290.2" cy="397.9" r="2.55"/><circle cx="239.1" cy="414.3" r="2.55"/><circle cx="222.9" cy="396.1" r="2.55"/><circle cx="278.7" cy="400.9" r="2.55"/><circle cx="235.5" cy="422.0" r="2.55"/><circle cx="286.2" cy="399.2" r="2.55"/><circle cx="307.1" cy="391.7" r="2.55"/><circle cx="216.6" cy="398.0" r="2.55"/><circle cx="289.0" cy="401.6" r="2.55"/><circle cx="198.5" cy="408.2" r="2.55"/><circle cx="201.4" cy="413.8" r="2.55"/><circle cx="230.6" cy="421.3" r="2.55"/><circle cx="204.7" cy="403.1" r="2.55"/><circle cx="206.1" cy="403.3" r="2.55"/><circle cx="194.3" cy="401.9" r="2.55"/><circle cx="230.9" cy="421.2" r="2.55"/><circle cx="206.9" cy="418.5" r="2.55"/><circle cx="290.5" cy="396.4" r="2.55"/><circle cx="221.5" cy="396.8" r="2.55"/><circle cx="242.1" cy="407.1" r="2.55"/><circle cx="301.1" cy="389.9" r="2.55"/><circle cx="263.2" cy="390.9" r="2.55"/><circle cx="185.5" cy="415.3" r="2.55"/><circle cx="226.7" cy="420.2" r="2.55"/><circle cx="212.1" cy="396.4" r="2.55"/><circle cx="279.5" cy="401.8" r="2.55"/><circle cx="265.1" cy="417.6" r="2.55"/><circle cx="271.3" cy="408.6" r="2.55"/><circle cx="304.1" cy="393.7" r="2.55"/><circle cx="231.8" cy="416.1" r="2.55"/><circle cx="204.5" cy="417.4" r="2.55"/><circle cx="248.8" cy="409.6" r="2.55"/><circle cx="234.5" cy="406.0" r="2.55"/><circle cx="268.2" cy="401.9" r="2.55"/><circle cx="255.7" cy="393.4" r="2.55"/><circle cx="284.1" cy="405.3" r="2.55"/><circle cx="268.6" cy="408.7" r="2.55"/><circle cx="298.6" cy="400.2" r="2.55"/><circle cx="288.4" cy="397.5" r="2.55"/><circle cx="197.3" cy="412.8" r="2.55"/><circle cx="259.6" cy="413.1" r="2.55"/><circle cx="269.2" cy="417.1" r="2.55"/><circle cx="187.8" cy="406.3" r="2.55"/><circle cx="286.6" cy="379.1" r="2.55"/><circle cx="194.6" cy="401.0" r="2.55"/><circle cx="224.9" cy="401.6" r="2.55"/><circle cx="208.8" cy="415.6" r="2.55"/><circle cx="290.8" cy="401.3" r="2.55"/><circle cx="263.2" cy="408.6" r="2.55"/><circle cx="232.8" cy="406.5" r="2.55"/><circle cx="209.9" cy="417.6" r="2.55"/><circle cx="286.2" cy="408.2" r="2.55"/><circle cx="197.7" cy="406.7" r="2.55"/><circle cx="205.6" cy="414.0" r="2.55"/><circle cx="237.9" cy="395.3" r="2.55"/><circle cx="206.0" cy="401.9" r="2.55"/><circle cx="272.6" cy="415.6" r="2.55"/><circle cx="305.2" cy="396.9" r="2.55"/><circle cx="181.7" cy="416.0" r="2.55"/><circle cx="201.6" cy="411.2" r="2.55"/><circle cx="226.9" cy="419.0" r="2.55"/><circle cx="200.3" cy="414.8" r="2.55"/><circle cx="310.8" cy="393.4" r="2.55"/><circle cx="194.4" cy="409.3" r="2.55"/><circle cx="300.0" cy="394.8" r="2.55"/><circle cx="309.4" cy="386.1" r="2.55"/><circle cx="230.7" cy="416.3" r="2.55"/><circle cx="289.6" cy="401.2" r="2.55"/><circle cx="185.7" cy="416.8" r="2.55"/><circle cx="189.4" cy="403.4" r="2.55"/><circle cx="207.2" cy="401.4" r="2.55"/><circle cx="196.7" cy="400.4" r="2.55"/><circle cx="257.3" cy="406.6" r="2.55"/><circle cx="238.0" cy="390.8" r="2.55"/><circle cx="187.1" cy="406.9" r="2.55"/><circle cx="268.8" cy="407.1" r="2.55"/><circle cx="265.7" cy="406.9" r="2.55"/><circle cx="198.7" cy="418.0" r="2.55"/><circle cx="188.3" cy="401.4" r="2.55"/><circle cx="210.2" cy="405.2" r="2.55"/><circle cx="288.7" cy="396.9" r="2.55"/><circle cx="185.1" cy="398.0" r="2.55"/><circle cx="211.7" cy="419.3" r="2.55"/><circle cx="268.7" cy="415.5" r="2.55"/><circle cx="308.5" cy="391.2" r="2.55"/><circle cx="194.0" cy="414.7" r="2.55"/><circle cx="301.0" cy="377.2" r="2.55"/><circle cx="253.4" cy="414.2" r="2.55"/><circle cx="261.8" cy="404.0" r="2.55"/><circle cx="190.2" cy="397.0" r="2.55"/><circle cx="278.3" cy="379.3" r="2.55"/><circle cx="194.6" cy="419.4" r="2.55"/><circle cx="226.5" cy="394.1" r="2.55"/><circle cx="228.5" cy="400.2" r="2.55"/><circle cx="199.5" cy="410.5" r="2.55"/><circle cx="195.0" cy="412.5" r="2.55"/><circle cx="260.7" cy="406.3" r="2.55"/><circle cx="276.7" cy="407.1" r="2.55"/><circle cx="269.9" cy="412.2" r="2.55"/><circle cx="295.9" cy="382.1" r="2.55"/><circle cx="238.3" cy="412.8" r="2.55"/><circle cx="192.5" cy="406.3" r="2.55"/><circle cx="266.3" cy="416.0" r="2.55"/><circle cx="290.5" cy="406.9" r="2.55"/><circle cx="216.2" cy="400.5" r="2.55"/><circle cx="182.8" cy="401.3" r="2.55"/><circle cx="301.6" cy="385.1" r="2.55"/><circle cx="282.3" cy="407.8" r="2.55"/><circle cx="250.2" cy="388.7" r="2.55"/><circle cx="221.4" cy="410.8" r="2.55"/><circle cx="250.9" cy="419.9" r="2.55"/><circle cx="250.1" cy="408.6" r="2.55"/><circle cx="303.8" cy="386.5" r="2.55"/><circle cx="208.0" cy="402.5" r="2.55"/><circle cx="181.8" cy="402.0" r="2.55"/><circle cx="270.7" cy="405.7" r="2.55"/><circle cx="183.7" cy="412.0" r="2.55"/><circle cx="214.3" cy="420.3" r="2.55"/><circle cx="258.0" cy="407.1" r="2.55"/><circle cx="188.8" cy="396.1" r="2.55"/><circle cx="198.8" cy="398.2" r="2.55"/><circle cx="308.0" cy="390.9" r="2.55"/><circle cx="220.0" cy="404.5" r="2.55"/><circle cx="303.1" cy="385.2" r="2.55"/><circle cx="184.1" cy="415.3" r="2.55"/><circle cx="292.9" cy="400.2" r="2.55"/><circle cx="299.4" cy="381.0" r="2.55"/><circle cx="257.5" cy="407.4" r="2.55"/><circle cx="199.0" cy="397.8" r="2.55"/><circle cx="230.6" cy="411.2" r="2.55"/><circle cx="292.5" cy="381.2" r="2.55"/><circle cx="228.0" cy="413.5" r="2.55"/><circle cx="208.9" cy="405.0" r="2.55"/><circle cx="264.7" cy="398.7" r="2.55"/><circle cx="186.7" cy="411.5" r="2.55"/><circle cx="211.0" cy="395.5" r="2.55"/><circle cx="195.3" cy="406.8" r="2.55"/><circle cx="192.4" cy="398.4" r="2.55"/><circle cx="202.9" cy="401.1" r="2.55"/><circle cx="195.6" cy="397.1" r="2.55"/><circle cx="241.9" cy="420.4" r="2.55"/><circle cx="189.4" cy="401.0" r="2.55"/><circle cx="254.3" cy="415.8" r="2.55"/><circle cx="293.2" cy="380.5" r="2.55"/><circle cx="215.0" cy="419.2" r="2.55"/><circle cx="222.0" cy="398.3" r="2.55"/><circle cx="227.7" cy="394.6" r="2.55"/><circle cx="167.6" cy="408.1" r="2.55"/><circle cx="180.2" cy="403.9" r="2.55"/><circle cx="177.3" cy="396.0" r="2.55"/><circle cx="166.1" cy="405.1" r="2.55"/><circle cx="169.6" cy="388.7" r="2.55"/><circle cx="165.6" cy="410.4" r="2.55"/><circle cx="177.1" cy="398.4" r="2.55"/><circle cx="177.3" cy="408.6" r="2.55"/><circle cx="169.6" cy="406.9" r="2.55"/><circle cx="164.2" cy="389.9" r="2.55"/><circle cx="170.5" cy="403.4" r="2.55"/><circle cx="176.9" cy="405.7" r="2.55"/><circle cx="164.8" cy="408.8" r="2.55"/><circle cx="176.0" cy="396.4" r="2.55"/><circle cx="174.3" cy="399.8" r="2.55"/><circle cx="161.4" cy="404.3" r="2.55"/><circle cx="163.4" cy="402.2" r="2.55"/><circle cx="162.2" cy="409.9" r="2.55"/><circle cx="165.6" cy="389.9" r="2.55"/><circle cx="60.8" cy="396.0" r="2.55"/><circle cx="67.6" cy="395.1" r="2.55"/><circle cx="73.2" cy="398.3" r="2.55"/><circle cx="78.5" cy="398.3" r="2.55"/><circle cx="79.4" cy="403.4" r="2.55"/><circle cx="86.4" cy="387.1" r="2.55"/><circle cx="92.0" cy="392.7" r="2.55"/><circle cx="92.7" cy="395.6" r="2.55"/><circle cx="98.7" cy="396.5" r="2.55"/><circle cx="95.6" cy="401.0" r="2.55"/><circle cx="103.0" cy="406.6" r="2.55"/><circle cx="106.1" cy="407.2" r="2.55"/><circle cx="115.5" cy="413.2" r="2.55"/><circle cx="115.8" cy="393.7" r="2.55"/><circle cx="115.8" cy="397.1" r="2.55"/><circle cx="113.8" cy="400.5" r="2.55"/><circle cx="118.6" cy="399.5" r="2.55"/><circle cx="172.4" cy="360.5" r="2.55"/><circle cx="134.5" cy="381.5" r="2.55"/><circle cx="154.7" cy="381.5" r="2.55"/><circle cx="162.9" cy="384.4" r="2.55"/><circle cx="168.4" cy="383.4" r="2.55"/><circle cx="176.1" cy="382.8" r="2.55"/><circle cx="122.2" cy="389.9" r="2.55"/><circle cx="123.3" cy="401.7" r="2.55"/><circle cx="126.7" cy="399.1" r="2.55"/><circle cx="128.6" cy="405.0" r="2.55"/><circle cx="133.1" cy="398.1" r="2.55"/><circle cx="140.4" cy="396.2" r="2.55"/><circle cx="145.3" cy="396.2" r="2.55"/><circle cx="141.4" cy="399.7" r="2.55"/><circle cx="133.5" cy="404.0" r="2.55"/><circle cx="150.2" cy="402.1" r="2.55"/><circle cx="154.1" cy="395.8" r="2.55"/><circle cx="155.1" cy="388.7" r="2.55"/><circle cx="160.0" cy="391.9" r="2.55"/><circle cx="163.9" cy="393.2" r="2.55"/><circle cx="168.8" cy="389.9" r="2.55"/><circle cx="171.2" cy="391.3" r="2.55"/><circle cx="168.8" cy="395.8" r="2.55"/><circle cx="162.9" cy="399.7" r="2.55"/><circle cx="168.8" cy="407.0" r="2.55"/><circle cx="158.0" cy="412.8" r="2.55"/><circle cx="162.0" cy="414.8" r="2.55"/><circle cx="173.7" cy="412.8" r="2.55"/><circle cx="173.1" cy="415.6" r="2.55"/><circle cx="137.1" cy="412.7" r="2.55"/><circle cx="137.5" cy="423.6" r="2.55"/><circle cx="178.6" cy="407.9" r="2.55"/><circle cx="203.4" cy="364.8" r="2.55"/><circle cx="198.5" cy="369.1" r="2.55"/><circle cx="227.9" cy="362.8" r="2.55"/><circle cx="223.0" cy="369.1" r="2.55"/><circle cx="238.1" cy="369.1" r="2.55"/><circle cx="242.8" cy="367.7" r="2.55"/><circle cx="181.3" cy="374.2" r="2.55"/><circle cx="194.6" cy="378.9" r="2.55"/><circle cx="200.5" cy="385.4" r="2.55"/><circle cx="210.7" cy="384.0" r="2.55"/><circle cx="183.8" cy="389.9" r="2.55"/><circle cx="189.7" cy="389.9" r="2.55"/><circle cx="194.6" cy="390.3" r="2.55"/><circle cx="199.5" cy="388.7" r="2.55"/><circle cx="195.6" cy="395.2" r="2.55"/><circle cx="200.5" cy="395.2" r="2.55"/><circle cx="186.8" cy="406.0" r="2.55"/><circle cx="177.9" cy="405.0" r="2.55"/><circle cx="178.9" cy="412.8" r="2.55"/><circle cx="183.8" cy="417.7" r="2.55"/><circle cx="187.1" cy="422.5" r="2.55"/><circle cx="192.6" cy="413.8" r="2.55"/><circle cx="207.4" cy="392.3" r="2.55"/><circle cx="215.2" cy="395.2" r="2.55"/><circle cx="207.4" cy="415.8" r="2.55"/><circle cx="213.2" cy="419.7" r="2.55"/><circle cx="225.0" cy="415.8" r="2.55"/><circle cx="230.9" cy="390.3" r="2.55"/><circle cx="242.6" cy="407.0" r="2.55"/><circle cx="235.8" cy="413.8" r="2.55"/><circle cx="241.9" cy="415.6" r="2.55"/><circle cx="227.9" cy="399.1" r="2.55"/><circle cx="224.0" cy="394.2" r="2.55"/><circle cx="271.4" cy="373.0" r="2.55"/><circle cx="308.6" cy="373.0" r="2.55"/><circle cx="248.8" cy="380.9" r="2.55"/><circle cx="256.7" cy="381.5" r="2.55"/><circle cx="283.1" cy="379.5" r="2.55"/><circle cx="304.7" cy="386.4" r="2.55"/><circle cx="251.8" cy="393.2" r="2.55"/><circle cx="259.6" cy="394.2" r="2.55"/><circle cx="292.9" cy="396.2" r="2.55"/><circle cx="307.6" cy="392.3" r="2.55"/><circle cx="264.5" cy="403.0" r="2.55"/><circle cx="274.3" cy="401.1" r="2.55"/><circle cx="292.0" cy="403.0" r="2.55"/><circle cx="298.6" cy="401.7" r="2.55"/><circle cx="304.7" cy="402.1" r="2.55"/><circle cx="251.8" cy="406.0" r="2.55"/><circle cx="257.6" cy="407.0" r="2.55"/><circle cx="265.5" cy="407.9" r="2.55"/><circle cx="282.2" cy="409.4" r="2.55"/><circle cx="290.4" cy="407.9" r="2.55"/><circle cx="297.8" cy="407.5" r="2.55"/><circle cx="303.7" cy="407.5" r="2.55"/><circle cx="246.9" cy="409.9" r="2.55"/><circle cx="261.6" cy="412.8" r="2.55"/><circle cx="269.4" cy="409.9" r="2.55"/><circle cx="277.3" cy="410.9" r="2.55"/><circle cx="242.9" cy="413.8" r="2.55"/><circle cx="250.8" cy="415.8" r="2.55"/><circle cx="255.7" cy="417.7" r="2.55"/><circle cx="299.5" cy="411.9" r="2.55"/><circle cx="247.8" cy="418.7" r="2.55"/><circle cx="309.8" cy="372.2" r="2.55"/><circle cx="314.4" cy="370.2" r="2.55"/><circle cx="323.6" cy="369.0" r="2.55"/><circle cx="334.0" cy="368.2" r="2.55"/><circle cx="343.4" cy="368.5" r="2.55"/><circle cx="330.3" cy="374.1" r="2.55"/><circle cx="337.9" cy="374.1" r="2.55"/><circle cx="325.3" cy="377.4" r="2.55"/><circle cx="313.5" cy="376.4" r="2.55"/><circle cx="316.9" cy="377.3" r="2.55"/><circle cx="313.5" cy="390.0" r="2.55"/><circle cx="329.0" cy="389.0" r="2.55"/><circle cx="322.9" cy="392.9" r="2.55"/><circle cx="298.4" cy="392.9" r="2.55"/><circle cx="304.3" cy="392.1" r="2.55"/><circle cx="292.5" cy="393.7" r="2.55"/><circle cx="301.8" cy="403.0" r="2.55"/><circle cx="293.4" cy="401.3" r="2.55"/><circle cx="137.0" cy="425.2" r="2.55"/><circle cx="215.4" cy="425.2" r="2.55"/><circle cx="163.6" cy="412.6" r="2.55"/><circle cx="205.6" cy="419.6" r="2.55"/><circle cx="246.4" cy="423.0" r="2.55"/><circle cx="233.8" cy="420.2" r="2.55"/><circle cx="240.8" cy="419.6" r="2.55"/><circle cx="252.0" cy="418.2" r="2.55"/><circle cx="264.6" cy="412.6" r="2.55"/><circle cx="259.0" cy="411.2" r="2.55"/><circle cx="175.8" cy="343.9" r="2.55"/></g><g fill="#f2b028"><circle cx="279.8" cy="391.4" r="2.55"/><circle cx="281.5" cy="404.1" r="2.55"/><circle cx="273.9" cy="396.7" r="2.55"/><circle cx="271.2" cy="395.0" r="2.55"/><circle cx="214.6" cy="402.5" r="2.55"/><circle cx="235.5" cy="390.8" r="2.55"/><circle cx="213.9" cy="399.6" r="2.55"/><circle cx="250.9" cy="398.4" r="2.55"/><circle cx="253.4" cy="385.9" r="2.55"/><circle cx="250.4" cy="399.8" r="2.55"/><circle cx="237.3" cy="410.5" r="2.55"/><circle cx="293.9" cy="379.4" r="2.55"/><circle cx="269.1" cy="390.7" r="2.55"/><circle cx="207.3" cy="397.7" r="2.55"/><circle cx="270.5" cy="385.0" r="2.55"/><circle cx="264.6" cy="389.2" r="2.55"/><circle cx="251.4" cy="387.8" r="2.55"/><circle cx="210.0" cy="419.0" r="2.55"/><circle cx="224.0" cy="405.3" r="2.55"/><circle cx="258.6" cy="399.7" r="2.55"/><circle cx="247.8" cy="389.2" r="2.55"/><circle cx="195.5" cy="407.0" r="2.55"/><circle cx="206.1" cy="405.5" r="2.55"/><circle cx="279.0" cy="383.7" r="2.55"/><circle cx="218.5" cy="418.4" r="2.55"/><circle cx="256.4" cy="391.8" r="2.55"/><circle cx="283.5" cy="401.3" r="2.55"/><circle cx="269.6" cy="385.0" r="2.55"/><circle cx="198.5" cy="400.3" r="2.55"/><circle cx="284.5" cy="393.5" r="2.55"/><circle cx="264.0" cy="388.4" r="2.55"/><circle cx="274.7" cy="391.5" r="2.55"/><circle cx="195.9" cy="412.3" r="2.55"/><circle cx="288.6" cy="383.3" r="2.55"/><circle cx="289.6" cy="382.5" r="2.55"/><circle cx="263.4" cy="395.3" r="2.55"/><circle cx="228.0" cy="421.5" r="2.55"/><circle cx="276.2" cy="405.7" r="2.55"/><circle cx="297.7" cy="380.9" r="2.55"/><circle cx="256.1" cy="384.9" r="2.55"/><circle cx="280.6" cy="388.2" r="2.55"/><circle cx="279.3" cy="387.9" r="2.55"/><circle cx="286.6" cy="381.4" r="2.55"/><circle cx="197.6" cy="403.8" r="2.55"/><circle cx="208.1" cy="400.8" r="2.55"/><circle cx="227.5" cy="412.8" r="2.55"/><circle cx="290.7" cy="387.2" r="2.55"/><circle cx="263.1" cy="386.4" r="2.55"/><circle cx="184.0" cy="414.1" r="2.55"/><circle cx="246.6" cy="401.2" r="2.55"/><circle cx="310.2" cy="379.9" r="2.55"/><circle cx="273.5" cy="395.8" r="2.55"/><circle cx="205.1" cy="405.4" r="2.55"/><circle cx="275.0" cy="381.0" r="2.55"/><circle cx="263.2" cy="391.1" r="2.55"/><circle cx="220.4" cy="393.9" r="2.55"/><circle cx="240.1" cy="391.6" r="2.55"/><circle cx="207.6" cy="401.6" r="2.55"/><circle cx="257.3" cy="397.0" r="2.55"/><circle cx="296.9" cy="390.0" r="2.55"/><circle cx="230.5" cy="393.6" r="2.55"/><circle cx="301.3" cy="383.5" r="2.55"/><circle cx="182.4" cy="413.5" r="2.55"/><circle cx="286.5" cy="383.0" r="2.55"/><circle cx="218.4" cy="404.4" r="2.55"/><circle cx="287.1" cy="392.1" r="2.55"/><circle cx="265.8" cy="388.2" r="2.55"/><circle cx="248.7" cy="401.9" r="2.55"/><circle cx="290.5" cy="398.7" r="2.55"/><circle cx="219.7" cy="402.8" r="2.55"/><circle cx="271.1" cy="416.2" r="2.55"/><circle cx="310.6" cy="381.6" r="2.55"/><circle cx="279.4" cy="387.0" r="2.55"/><circle cx="271.7" cy="390.5" r="2.55"/><circle cx="281.6" cy="384.2" r="2.55"/><circle cx="209.5" cy="396.7" r="2.55"/><circle cx="284.0" cy="386.2" r="2.55"/><circle cx="249.0" cy="389.3" r="2.55"/><circle cx="285.1" cy="387.1" r="2.55"/><circle cx="281.0" cy="385.9" r="2.55"/><circle cx="294.1" cy="383.3" r="2.55"/><circle cx="276.5" cy="381.2" r="2.55"/><circle cx="243.6" cy="393.3" r="2.55"/><circle cx="179.3" cy="400.6" r="2.55"/><circle cx="168.9" cy="402.7" r="2.55"/><circle cx="167.8" cy="410.3" r="2.55"/><circle cx="173.2" cy="406.4" r="2.55"/><circle cx="179.1" cy="401.4" r="2.55"/><circle cx="164.0" cy="403.1" r="2.55"/><circle cx="180.5" cy="396.8" r="2.55"/><circle cx="166.3" cy="379.5" r="2.55"/><circle cx="127.3" cy="391.3" r="2.55"/><circle cx="136.5" cy="394.2" r="2.55"/><circle cx="137.5" cy="405.0" r="2.55"/><circle cx="138.4" cy="407.9" r="2.55"/><circle cx="145.3" cy="405.6" r="2.55"/><circle cx="150.2" cy="407.0" r="2.55"/><circle cx="177.8" cy="392.5" r="2.55"/><circle cx="173.7" cy="396.2" r="2.55"/><circle cx="171.8" cy="400.1" r="2.55"/><circle cx="170.8" cy="403.6" r="2.55"/><circle cx="158.0" cy="408.3" r="2.55"/><circle cx="162.0" cy="407.9" r="2.55"/><circle cx="147.4" cy="415.4" r="2.55"/><circle cx="244.6" cy="372.6" r="2.55"/><circle cx="181.9" cy="394.2" r="2.55"/><circle cx="179.3" cy="398.1" r="2.55"/><circle cx="185.8" cy="398.1" r="2.55"/><circle cx="188.7" cy="401.1" r="2.55"/><circle cx="194.6" cy="401.1" r="2.55"/><circle cx="199.5" cy="406.0" r="2.55"/><circle cx="192.6" cy="407.9" r="2.55"/><circle cx="181.9" cy="407.9" r="2.55"/><circle cx="184.8" cy="410.9" r="2.55"/><circle cx="196.6" cy="420.9" r="2.55"/><circle cx="200.5" cy="410.9" r="2.55"/><circle cx="202.5" cy="405.0" r="2.55"/><circle cx="206.4" cy="396.2" r="2.55"/><circle cx="211.3" cy="399.1" r="2.55"/><circle cx="208.3" cy="405.0" r="2.55"/><circle cx="216.2" cy="407.0" r="2.55"/><circle cx="221.1" cy="399.1" r="2.55"/><circle cx="222.1" cy="406.0" r="2.55"/><circle cx="226.0" cy="402.1" r="2.55"/><circle cx="219.1" cy="411.9" r="2.55"/><circle cx="212.3" cy="413.8" r="2.55"/><circle cx="222.3" cy="419.6" r="2.55"/><circle cx="227.9" cy="407.9" r="2.55"/><circle cx="229.9" cy="410.9" r="2.55"/><circle cx="232.8" cy="404.0" r="2.55"/><circle cx="233.8" cy="396.2" r="2.55"/><circle cx="239.7" cy="390.3" r="2.55"/><circle cx="237.7" cy="397.2" r="2.55"/><circle cx="240.7" cy="402.1" r="2.55"/><circle cx="237.7" cy="409.9" r="2.55"/><circle cx="270.8" cy="356.0" r="2.55"/><circle cx="306.6" cy="361.7" r="2.55"/><circle cx="245.9" cy="372.6" r="2.55"/><circle cx="268.4" cy="376.6" r="2.55"/><circle cx="289.0" cy="374.6" r="2.55"/><circle cx="294.0" cy="377.6" r="2.55"/><circle cx="300.4" cy="378.2" r="2.55"/><circle cx="305.9" cy="379.0" r="2.55"/><circle cx="263.5" cy="382.5" r="2.55"/><circle cx="267.5" cy="380.5" r="2.55"/><circle cx="274.3" cy="380.9" r="2.55"/><circle cx="280.2" cy="381.5" r="2.55"/><circle cx="288.0" cy="380.5" r="2.55"/><circle cx="293.1" cy="382.4" r="2.55"/><circle cx="297.2" cy="384.7" r="2.55"/><circle cx="301.8" cy="382.5" r="2.55"/><circle cx="305.7" cy="384.4" r="2.55"/><circle cx="308.6" cy="381.5" r="2.55"/><circle cx="242.0" cy="386.4" r="2.55"/><circle cx="250.8" cy="385.4" r="2.55"/><circle cx="256.7" cy="384.4" r="2.55"/><circle cx="245.9" cy="389.3" r="2.55"/><circle cx="255.7" cy="391.3" r="2.55"/><circle cx="261.6" cy="389.3" r="2.55"/><circle cx="266.5" cy="390.3" r="2.55"/><circle cx="271.4" cy="389.3" r="2.55"/><circle cx="276.3" cy="387.4" r="2.55"/><circle cx="280.2" cy="390.3" r="2.55"/><circle cx="286.1" cy="387.4" r="2.55"/><circle cx="290.9" cy="386.3" r="2.55"/><circle cx="294.9" cy="389.9" r="2.55"/><circle cx="300.5" cy="389.0" r="2.55"/><circle cx="242.0" cy="394.2" r="2.55"/><circle cx="247.8" cy="397.2" r="2.55"/><circle cx="265.5" cy="395.2" r="2.55"/><circle cx="269.4" cy="398.5" r="2.55"/><circle cx="275.3" cy="394.2" r="2.55"/><circle cx="283.1" cy="397.2" r="2.55"/><circle cx="288.0" cy="394.2" r="2.55"/><circle cx="297.7" cy="396.5" r="2.55"/><circle cx="303.5" cy="395.8" r="2.55"/><circle cx="242.9" cy="402.1" r="2.55"/><circle cx="249.8" cy="403.0" r="2.55"/><circle cx="255.7" cy="401.1" r="2.55"/><circle cx="260.6" cy="401.1" r="2.55"/><circle cx="280.2" cy="402.1" r="2.55"/><circle cx="287.1" cy="402.1" r="2.55"/><circle cx="244.9" cy="407.0" r="2.55"/><circle cx="274.3" cy="407.0" r="2.55"/><circle cx="253.7" cy="410.9" r="2.55"/><circle cx="270.3" cy="413.9" r="2.55"/><circle cx="315.2" cy="361.0" r="2.55"/><circle cx="320.8" cy="359.8" r="2.55"/><circle cx="312.2" cy="366.5" r="2.55"/><circle cx="326.1" cy="370.2" r="2.55"/><circle cx="317.7" cy="381.6" r="2.55"/><circle cx="313.5" cy="382.3" r="2.55"/><circle cx="309.3" cy="382.8" r="2.55"/><circle cx="291.7" cy="380.3" r="2.55"/><circle cx="304.3" cy="386.2" r="2.55"/><circle cx="290.8" cy="397.9" r="2.55"/><circle cx="225.4" cy="415.4" r="2.55"/></g></g><g clip-path="url(#c4)" stroke="#140c0c" stroke-width="0.9"><g fill="#dc1c24"><circle cx="245.3" cy="533.5" r="2.55"/><circle cx="215.5" cy="521.3" r="2.55"/><circle cx="268.0" cy="497.0" r="2.55"/><circle cx="305.1" cy="519.9" r="2.55"/><circle cx="232.3" cy="542.1" r="2.55"/><circle cx="214.6" cy="526.1" r="2.55"/><circle cx="280.4" cy="521.1" r="2.55"/><circle cx="305.5" cy="499.6" r="2.55"/><circle cx="250.5" cy="545.1" r="2.55"/><circle cx="291.1" cy="499.3" r="2.55"/><circle cx="243.5" cy="505.0" r="2.55"/><circle cx="226.5" cy="516.2" r="2.55"/><circle cx="270.3" cy="489.4" r="2.55"/><circle cx="262.5" cy="504.4" r="2.55"/><circle cx="216.3" cy="502.8" r="2.55"/><circle cx="204.8" cy="504.9" r="2.55"/><circle cx="215.5" cy="505.2" r="2.55"/><circle cx="243.0" cy="515.2" r="2.55"/><circle cx="269.4" cy="539.6" r="2.55"/><circle cx="219.9" cy="543.1" r="2.55"/><circle cx="188.2" cy="512.2" r="2.55"/><circle cx="307.8" cy="521.7" r="2.55"/><circle cx="252.7" cy="539.4" r="2.55"/><circle cx="216.7" cy="529.0" r="2.55"/><circle cx="286.9" cy="536.9" r="2.55"/><circle cx="210.3" cy="501.5" r="2.55"/><circle cx="257.9" cy="500.5" r="2.55"/><circle cx="218.2" cy="508.3" r="2.55"/><circle cx="279.4" cy="523.6" r="2.55"/><circle cx="245.9" cy="530.0" r="2.55"/><circle cx="267.6" cy="499.1" r="2.55"/><circle cx="285.0" cy="501.2" r="2.55"/><circle cx="306.7" cy="498.4" r="2.55"/><circle cx="307.2" cy="523.6" r="2.55"/><circle cx="278.6" cy="508.7" r="2.55"/><circle cx="282.6" cy="495.5" r="2.55"/><circle cx="203.1" cy="517.0" r="2.55"/><circle cx="195.8" cy="524.4" r="2.55"/><circle cx="258.7" cy="510.6" r="2.55"/><circle cx="241.1" cy="502.5" r="2.55"/><circle cx="232.6" cy="545.3" r="2.55"/><circle cx="291.3" cy="522.2" r="2.55"/><circle cx="289.5" cy="520.4" r="2.55"/><circle cx="187.9" cy="522.0" r="2.55"/><circle cx="215.0" cy="510.0" r="2.55"/><circle cx="228.3" cy="522.0" r="2.55"/><circle cx="197.5" cy="526.3" r="2.55"/><circle cx="219.1" cy="535.6" r="2.55"/><circle cx="229.1" cy="520.4" r="2.55"/><circle cx="205.4" cy="530.1" r="2.55"/><circle cx="276.3" cy="501.4" r="2.55"/><circle cx="287.1" cy="493.6" r="2.55"/><circle cx="210.1" cy="531.3" r="2.55"/><circle cx="265.9" cy="503.0" r="2.55"/><circle cx="239.4" cy="522.3" r="2.55"/><circle cx="189.9" cy="529.7" r="2.55"/><circle cx="222.6" cy="528.1" r="2.55"/><circle cx="263.5" cy="542.2" r="2.55"/><circle cx="225.2" cy="529.3" r="2.55"/><circle cx="205.8" cy="508.8" r="2.55"/><circle cx="290.2" cy="526.3" r="2.55"/><circle cx="276.9" cy="491.4" r="2.55"/><circle cx="197.2" cy="501.7" r="2.55"/><circle cx="205.1" cy="540.9" r="2.55"/><circle cx="249.9" cy="520.9" r="2.55"/><circle cx="276.3" cy="518.8" r="2.55"/><circle cx="199.4" cy="502.4" r="2.55"/><circle cx="246.9" cy="506.0" r="2.55"/><circle cx="214.0" cy="512.6" r="2.55"/><circle cx="275.8" cy="532.8" r="2.55"/><circle cx="242.3" cy="544.0" r="2.55"/><circle cx="264.0" cy="495.2" r="2.55"/><circle cx="194.6" cy="531.4" r="2.55"/><circle cx="241.1" cy="497.5" r="2.55"/><circle cx="207.9" cy="533.7" r="2.55"/><circle cx="228.6" cy="501.3" r="2.55"/><circle cx="308.4" cy="495.1" r="2.55"/><circle cx="279.3" cy="538.8" r="2.55"/><circle cx="245.6" cy="545.6" r="2.55"/><circle cx="222.4" cy="519.3" r="2.55"/><circle cx="306.7" cy="494.7" r="2.55"/><circle cx="228.7" cy="507.8" r="2.55"/><circle cx="238.7" cy="538.1" r="2.55"/><circle cx="258.4" cy="490.5" r="2.55"/><circle cx="262.4" cy="542.1" r="2.55"/><circle cx="227.2" cy="538.9" r="2.55"/><circle cx="219.5" cy="514.5" r="2.55"/><circle cx="214.6" cy="541.1" r="2.55"/><circle cx="266.1" cy="541.3" r="2.55"/><circle cx="216.8" cy="541.8" r="2.55"/><circle cx="310.8" cy="513.6" r="2.55"/><circle cx="288.4" cy="502.1" r="2.55"/><circle cx="253.9" cy="510.0" r="2.55"/><circle cx="229.5" cy="538.8" r="2.55"/><circle cx="296.7" cy="495.9" r="2.55"/><circle cx="279.8" cy="526.5" r="2.55"/><circle cx="192.0" cy="535.9" r="2.55"/><circle cx="243.4" cy="511.3" r="2.55"/><circle cx="284.6" cy="536.0" r="2.55"/><circle cx="227.2" cy="496.5" r="2.55"/><circle cx="279.4" cy="499.5" r="2.55"/><circle cx="236.6" cy="537.0" r="2.55"/><circle cx="225.0" cy="527.7" r="2.55"/><circle cx="245.3" cy="542.4" r="2.55"/><circle cx="225.3" cy="540.1" r="2.55"/><circle cx="199.3" cy="524.9" r="2.55"/><circle cx="251.3" cy="518.6" r="2.55"/><circle cx="231.7" cy="513.6" r="2.55"/><circle cx="273.7" cy="495.4" r="2.55"/><circle cx="190.4" cy="524.4" r="2.55"/><circle cx="252.0" cy="537.8" r="2.55"/><circle cx="230.9" cy="506.2" r="2.55"/><circle cx="287.0" cy="500.3" r="2.55"/><circle cx="311.0" cy="504.6" r="2.55"/><circle cx="275.4" cy="542.1" r="2.55"/><circle cx="224.0" cy="512.4" r="2.55"/><circle cx="209.5" cy="523.7" r="2.55"/><circle cx="270.2" cy="496.6" r="2.55"/><circle cx="312.0" cy="507.7" r="2.55"/><circle cx="209.1" cy="540.6" r="2.55"/><circle cx="281.7" cy="536.8" r="2.55"/><circle cx="249.3" cy="542.3" r="2.55"/><circle cx="306.3" cy="510.0" r="2.55"/><circle cx="256.6" cy="498.5" r="2.55"/><circle cx="287.2" cy="511.3" r="2.55"/><circle cx="218.7" cy="510.2" r="2.55"/><circle cx="186.7" cy="514.3" r="2.55"/><circle cx="280.3" cy="501.7" r="2.55"/><circle cx="251.1" cy="501.1" r="2.55"/><circle cx="299.9" cy="498.9" r="2.55"/><circle cx="276.8" cy="531.3" r="2.55"/><circle cx="275.5" cy="504.0" r="2.55"/><circle cx="302.6" cy="492.0" r="2.55"/><circle cx="244.0" cy="527.9" r="2.55"/><circle cx="228.3" cy="534.7" r="2.55"/><circle cx="211.1" cy="505.4" r="2.55"/><circle cx="213.5" cy="501.5" r="2.55"/><circle cx="225.8" cy="521.2" r="2.55"/><circle cx="246.4" cy="516.6" r="2.55"/><circle cx="247.3" cy="544.9" r="2.55"/><circle cx="207.3" cy="501.7" r="2.55"/><circle cx="307.8" cy="505.2" r="2.55"/><circle cx="239.6" cy="512.4" r="2.55"/><circle cx="235.4" cy="502.0" r="2.55"/><circle cx="258.1" cy="490.3" r="2.55"/><circle cx="277.8" cy="508.5" r="2.55"/><circle cx="301.9" cy="507.8" r="2.55"/><circle cx="223.6" cy="523.8" r="2.55"/><circle cx="232.1" cy="539.4" r="2.55"/><circle cx="305.0" cy="512.3" r="2.55"/><circle cx="209.0" cy="503.5" r="2.55"/><circle cx="286.9" cy="490.0" r="2.55"/><circle cx="246.4" cy="519.7" r="2.55"/><circle cx="298.8" cy="506.3" r="2.55"/><circle cx="303.1" cy="517.6" r="2.55"/><circle cx="227.9" cy="515.1" r="2.55"/><circle cx="285.0" cy="502.7" r="2.55"/><circle cx="234.9" cy="513.3" r="2.55"/><circle cx="289.5" cy="497.1" r="2.55"/><circle cx="287.5" cy="496.5" r="2.55"/><circle cx="193.3" cy="511.0" r="2.55"/><circle cx="276.7" cy="540.6" r="2.55"/><circle cx="280.3" cy="536.6" r="2.55"/><circle cx="197.7" cy="537.0" r="2.55"/><circle cx="206.4" cy="506.7" r="2.55"/><circle cx="270.7" cy="545.9" r="2.55"/><circle cx="309.4" cy="505.5" r="2.55"/><circle cx="217.9" cy="508.1" r="2.55"/><circle cx="208.7" cy="505.3" r="2.55"/><circle cx="278.9" cy="491.6" r="2.55"/><circle cx="271.8" cy="490.1" r="2.55"/><circle cx="285.7" cy="519.8" r="2.55"/><circle cx="235.9" cy="544.5" r="2.55"/><circle cx="208.1" cy="516.0" r="2.55"/><circle cx="186.6" cy="532.4" r="2.55"/><circle cx="250.9" cy="491.5" r="2.55"/><circle cx="238.2" cy="529.8" r="2.55"/><circle cx="277.8" cy="511.6" r="2.55"/><circle cx="306.4" cy="525.7" r="2.55"/><circle cx="225.9" cy="514.6" r="2.55"/><circle cx="299.9" cy="527.8" r="2.55"/><circle cx="289.5" cy="541.0" r="2.55"/><circle cx="226.1" cy="534.2" r="2.55"/><circle cx="263.0" cy="498.5" r="2.55"/><circle cx="247.6" cy="507.2" r="2.55"/><circle cx="196.5" cy="539.2" r="2.55"/><circle cx="204.8" cy="533.1" r="2.55"/><circle cx="300.3" cy="517.5" r="2.55"/><circle cx="303.6" cy="493.6" r="2.55"/><circle cx="295.8" cy="511.2" r="2.55"/><circle cx="218.3" cy="532.6" r="2.55"/><circle cx="198.3" cy="520.7" r="2.55"/><circle cx="213.0" cy="528.8" r="2.55"/><circle cx="232.7" cy="543.0" r="2.55"/><circle cx="311.7" cy="504.1" r="2.55"/><circle cx="287.9" cy="529.1" r="2.55"/><circle cx="294.8" cy="509.3" r="2.55"/><circle cx="245.6" cy="498.7" r="2.55"/><circle cx="310.5" cy="508.2" r="2.55"/><circle cx="202.5" cy="527.3" r="2.55"/><circle cx="246.2" cy="496.8" r="2.55"/><circle cx="298.5" cy="490.7" r="2.55"/><circle cx="245.1" cy="532.3" r="2.55"/><circle cx="229.2" cy="543.4" r="2.55"/><circle cx="209.4" cy="521.5" r="2.55"/><circle cx="206.6" cy="541.1" r="2.55"/><circle cx="285.0" cy="502.1" r="2.55"/><circle cx="213.9" cy="540.9" r="2.55"/><circle cx="308.4" cy="517.6" r="2.55"/><circle cx="253.2" cy="539.7" r="2.55"/><circle cx="198.4" cy="538.9" r="2.55"/><circle cx="244.4" cy="538.1" r="2.55"/><circle cx="302.3" cy="496.8" r="2.55"/><circle cx="203.3" cy="519.9" r="2.55"/><circle cx="219.7" cy="514.6" r="2.55"/><circle cx="297.6" cy="507.3" r="2.55"/><circle cx="309.7" cy="495.9" r="2.55"/><circle cx="307.8" cy="504.6" r="2.55"/><circle cx="225.5" cy="496.9" r="2.55"/><circle cx="201.6" cy="511.6" r="2.55"/><circle cx="256.9" cy="545.0" r="2.55"/><circle cx="231.7" cy="544.5" r="2.55"/><circle cx="254.4" cy="540.1" r="2.55"/><circle cx="231.4" cy="526.3" r="2.55"/><circle cx="308.1" cy="499.5" r="2.55"/><circle cx="194.1" cy="500.4" r="2.55"/><circle cx="291.4" cy="523.6" r="2.55"/><circle cx="302.8" cy="533.5" r="2.55"/><circle cx="239.7" cy="546.3" r="2.55"/><circle cx="257.6" cy="490.6" r="2.55"/><circle cx="299.7" cy="517.9" r="2.55"/><circle cx="290.9" cy="494.0" r="2.55"/><circle cx="219.7" cy="540.0" r="2.55"/><circle cx="226.8" cy="544.9" r="2.55"/><circle cx="273.9" cy="492.1" r="2.55"/><circle cx="309.6" cy="495.0" r="2.55"/><circle cx="220.1" cy="503.7" r="2.55"/><circle cx="269.4" cy="545.2" r="2.55"/><circle cx="311.2" cy="510.1" r="2.55"/><circle cx="206.3" cy="531.7" r="2.55"/><circle cx="231.2" cy="541.9" r="2.55"/><circle cx="249.4" cy="523.9" r="2.55"/><circle cx="193.3" cy="517.6" r="2.55"/><circle cx="281.4" cy="501.9" r="2.55"/><circle cx="216.4" cy="501.4" r="2.55"/><circle cx="234.8" cy="511.9" r="2.55"/><circle cx="214.0" cy="529.5" r="2.55"/><circle cx="243.0" cy="520.4" r="2.55"/><circle cx="250.5" cy="544.4" r="2.55"/><circle cx="205.5" cy="512.5" r="2.55"/><circle cx="300.6" cy="523.0" r="2.55"/><circle cx="264.8" cy="492.3" r="2.55"/><circle cx="228.3" cy="500.3" r="2.55"/><circle cx="270.4" cy="514.0" r="2.55"/><circle cx="214.1" cy="516.5" r="2.55"/><circle cx="197.1" cy="529.0" r="2.55"/><circle cx="228.2" cy="508.8" r="2.55"/><circle cx="214.0" cy="516.6" r="2.55"/><circle cx="254.4" cy="547.5" r="2.55"/><circle cx="198.6" cy="521.1" r="2.55"/><circle cx="210.4" cy="529.5" r="2.55"/><circle cx="287.9" cy="504.2" r="2.55"/><circle cx="246.9" cy="499.0" r="2.55"/><circle cx="273.9" cy="522.0" r="2.55"/><circle cx="191.7" cy="529.5" r="2.55"/><circle cx="273.6" cy="509.6" r="2.55"/><circle cx="220.9" cy="545.0" r="2.55"/><circle cx="186.5" cy="504.5" r="2.55"/><circle cx="191.3" cy="514.8" r="2.55"/><circle cx="311.5" cy="501.1" r="2.55"/><circle cx="285.0" cy="535.6" r="2.55"/><circle cx="308.1" cy="513.4" r="2.55"/><circle cx="257.3" cy="501.5" r="2.55"/><circle cx="246.9" cy="510.8" r="2.55"/><circle cx="221.0" cy="521.3" r="2.55"/><circle cx="253.0" cy="506.6" r="2.55"/><circle cx="274.7" cy="533.7" r="2.55"/><circle cx="217.4" cy="542.1" r="2.55"/><circle cx="233.3" cy="509.6" r="2.55"/><circle cx="275.3" cy="535.7" r="2.55"/><circle cx="278.1" cy="500.4" r="2.55"/><circle cx="231.1" cy="510.6" r="2.55"/><circle cx="215.5" cy="535.1" r="2.55"/><circle cx="271.2" cy="525.9" r="2.55"/><circle cx="220.4" cy="499.3" r="2.55"/><circle cx="190.1" cy="539.3" r="2.55"/><circle cx="270.4" cy="545.8" r="2.55"/><circle cx="286.3" cy="528.4" r="2.55"/><circle cx="232.5" cy="508.5" r="2.55"/><circle cx="275.7" cy="540.0" r="2.55"/><circle cx="295.3" cy="511.1" r="2.55"/><circle cx="225.6" cy="545.2" r="2.55"/><circle cx="205.9" cy="511.3" r="2.55"/><circle cx="293.4" cy="505.8" r="2.55"/><circle cx="299.8" cy="510.6" r="2.55"/><circle cx="232.8" cy="534.6" r="2.55"/><circle cx="188.6" cy="527.6" r="2.55"/><circle cx="223.0" cy="505.9" r="2.55"/><circle cx="300.6" cy="500.3" r="2.55"/><circle cx="227.0" cy="528.4" r="2.55"/><circle cx="250.3" cy="498.2" r="2.55"/><circle cx="225.2" cy="516.7" r="2.55"/><circle cx="299.7" cy="494.7" r="2.55"/><circle cx="216.3" cy="538.6" r="2.55"/><circle cx="286.3" cy="532.3" r="2.55"/><circle cx="283.8" cy="514.8" r="2.55"/><circle cx="192.9" cy="515.8" r="2.55"/><circle cx="264.7" cy="534.9" r="2.55"/><circle cx="255.1" cy="512.8" r="2.55"/><circle cx="199.2" cy="510.6" r="2.55"/><circle cx="197.8" cy="503.4" r="2.55"/><circle cx="274.4" cy="518.3" r="2.55"/><circle cx="207.3" cy="521.9" r="2.55"/><circle cx="232.8" cy="539.9" r="2.55"/><circle cx="172.1" cy="520.1" r="2.55"/><circle cx="153.0" cy="529.5" r="2.55"/><circle cx="154.1" cy="520.4" r="2.55"/><circle cx="161.8" cy="510.7" r="2.55"/><circle cx="162.2" cy="513.7" r="2.55"/><circle cx="173.8" cy="524.1" r="2.55"/><circle cx="164.6" cy="507.6" r="2.55"/><circle cx="166.5" cy="528.7" r="2.55"/><circle cx="184.6" cy="526.7" r="2.55"/><circle cx="156.2" cy="520.4" r="2.55"/><circle cx="172.1" cy="505.7" r="2.55"/><circle cx="161.1" cy="522.4" r="2.55"/><circle cx="172.2" cy="528.1" r="2.55"/><circle cx="158.0" cy="514.1" r="2.55"/><circle cx="170.4" cy="526.7" r="2.55"/><circle cx="166.1" cy="533.4" r="2.55"/><circle cx="173.5" cy="503.3" r="2.55"/><circle cx="151.2" cy="528.3" r="2.55"/><circle cx="176.2" cy="509.4" r="2.55"/><circle cx="156.4" cy="526.3" r="2.55"/><circle cx="150.6" cy="526.8" r="2.55"/><circle cx="179.9" cy="526.1" r="2.55"/><circle cx="181.0" cy="507.2" r="2.55"/><circle cx="162.2" cy="500.5" r="2.55"/><circle cx="152.4" cy="502.2" r="2.55"/><circle cx="154.3" cy="504.9" r="2.55"/><circle cx="160.0" cy="530.1" r="2.55"/><circle cx="181.3" cy="538.3" r="2.55"/><circle cx="178.6" cy="510.1" r="2.55"/><circle cx="153.3" cy="528.6" r="2.55"/><circle cx="175.2" cy="516.8" r="2.55"/><circle cx="166.4" cy="506.4" r="2.55"/><circle cx="160.1" cy="524.4" r="2.55"/><circle cx="158.9" cy="522.5" r="2.55"/><circle cx="158.1" cy="506.8" r="2.55"/><circle cx="163.3" cy="517.0" r="2.55"/><circle cx="151.0" cy="522.8" r="2.55"/><circle cx="73.2" cy="495.6" r="2.55"/><circle cx="78.4" cy="493.5" r="2.55"/><circle cx="86.3" cy="491.4" r="2.55"/><circle cx="91.7" cy="490.1" r="2.55"/><circle cx="61.2" cy="506.9" r="2.55"/><circle cx="79.4" cy="503.7" r="2.55"/><circle cx="78.4" cy="508.9" r="2.55"/><circle cx="91.0" cy="503.7" r="2.55"/><circle cx="67.3" cy="520.3" r="2.55"/><circle cx="98.7" cy="513.6" r="2.55"/><circle cx="95.6" cy="518.1" r="2.55"/><circle cx="103.2" cy="534.6" r="2.55"/><circle cx="106.4" cy="493.4" r="2.55"/><circle cx="114.0" cy="496.8" r="2.55"/><circle cx="116.1" cy="495.1" r="2.55"/><circle cx="115.8" cy="510.6" r="2.55"/><circle cx="118.3" cy="506.4" r="2.55"/><circle cx="137.1" cy="478.8" r="2.55"/><circle cx="176.4" cy="478.1" r="2.55"/><circle cx="150.2" cy="487.3" r="2.55"/><circle cx="168.2" cy="486.3" r="2.55"/><circle cx="178.9" cy="490.8" r="2.55"/><circle cx="126.1" cy="499.8" r="2.55"/><circle cx="141.4" cy="497.1" r="2.55"/><circle cx="122.2" cy="508.2" r="2.55"/><circle cx="122.2" cy="512.7" r="2.55"/><circle cx="132.5" cy="511.2" r="2.55"/><circle cx="134.5" cy="508.2" r="2.55"/><circle cx="140.4" cy="506.3" r="2.55"/><circle cx="145.3" cy="509.8" r="2.55"/><circle cx="149.2" cy="512.7" r="2.55"/><circle cx="144.3" cy="516.5" r="2.55"/><circle cx="154.1" cy="508.8" r="2.55"/><circle cx="155.1" cy="503.7" r="2.55"/><circle cx="160.0" cy="506.9" r="2.55"/><circle cx="162.9" cy="503.3" r="2.55"/><circle cx="168.8" cy="501.8" r="2.55"/><circle cx="176.7" cy="507.3" r="2.55"/><circle cx="168.8" cy="513.5" r="2.55"/><circle cx="172.7" cy="516.1" r="2.55"/><circle cx="123.1" cy="522.5" r="2.55"/><circle cx="133.9" cy="521.4" r="2.55"/><circle cx="162.0" cy="522.5" r="2.55"/><circle cx="128.6" cy="528.4" r="2.55"/><circle cx="136.5" cy="527.8" r="2.55"/><circle cx="141.0" cy="527.8" r="2.55"/><circle cx="152.2" cy="530.8" r="2.55"/><circle cx="149.2" cy="532.4" r="2.55"/><circle cx="172.7" cy="522.0" r="2.55"/><circle cx="173.7" cy="529.2" r="2.55"/><circle cx="178.6" cy="528.8" r="2.55"/><circle cx="203.4" cy="464.8" r="2.55"/><circle cx="227.9" cy="464.8" r="2.55"/><circle cx="242.8" cy="455.6" r="2.55"/><circle cx="194.6" cy="490.9" r="2.55"/><circle cx="196.6" cy="497.7" r="2.55"/><circle cx="194.6" cy="502.1" r="2.55"/><circle cx="199.5" cy="503.0" r="2.55"/><circle cx="212.3" cy="503.0" r="2.55"/><circle cx="219.1" cy="502.1" r="2.55"/><circle cx="212.3" cy="506.4" r="2.55"/><circle cx="235.8" cy="505.0" r="2.55"/><circle cx="240.7" cy="505.0" r="2.55"/><circle cx="229.9" cy="506.4" r="2.55"/><circle cx="177.9" cy="507.9" r="2.55"/><circle cx="183.8" cy="507.0" r="2.55"/><circle cx="189.7" cy="506.4" r="2.55"/><circle cx="203.4" cy="508.9" r="2.55"/><circle cx="189.7" cy="513.8" r="2.55"/><circle cx="200.5" cy="515.8" r="2.55"/><circle cx="206.4" cy="513.8" r="2.55"/><circle cx="220.1" cy="511.9" r="2.55"/><circle cx="222.1" cy="515.4" r="2.55"/><circle cx="242.6" cy="511.9" r="2.55"/><circle cx="176.0" cy="519.7" r="2.55"/><circle cx="194.6" cy="520.7" r="2.55"/><circle cx="200.5" cy="520.7" r="2.55"/><circle cx="206.4" cy="520.7" r="2.55"/><circle cx="215.2" cy="522.6" r="2.55"/><circle cx="227.9" cy="517.7" r="2.55"/><circle cx="239.7" cy="521.7" r="2.55"/><circle cx="175.0" cy="528.5" r="2.55"/><circle cx="180.5" cy="529.5" r="2.55"/><circle cx="191.7" cy="529.1" r="2.55"/><circle cx="207.4" cy="529.5" r="2.55"/><circle cx="215.2" cy="529.5" r="2.55"/><circle cx="225.0" cy="528.5" r="2.55"/><circle cx="242.6" cy="530.5" r="2.55"/><circle cx="184.8" cy="534.4" r="2.55"/><circle cx="206.4" cy="533.4" r="2.55"/><circle cx="227.9" cy="532.5" r="2.55"/><circle cx="212.3" cy="544.8" r="2.55"/><circle cx="218.5" cy="546.2" r="2.55"/><circle cx="237.7" cy="549.1" r="2.55"/><circle cx="241.7" cy="541.3" r="2.55"/><circle cx="263.9" cy="447.4" r="2.55"/><circle cx="257.6" cy="475.8" r="2.55"/><circle cx="264.5" cy="489.1" r="2.55"/><circle cx="282.2" cy="486.2" r="2.55"/><circle cx="284.7" cy="486.8" r="2.55"/><circle cx="292.0" cy="488.1" r="2.55"/><circle cx="299.2" cy="488.8" r="2.55"/><circle cx="307.6" cy="487.7" r="2.55"/><circle cx="258.6" cy="492.1" r="2.55"/><circle cx="271.4" cy="493.0" r="2.55"/><circle cx="281.2" cy="494.0" r="2.55"/><circle cx="287.1" cy="493.6" r="2.55"/><circle cx="294.9" cy="495.0" r="2.55"/><circle cx="305.7" cy="493.0" r="2.55"/><circle cx="245.9" cy="496.4" r="2.55"/><circle cx="253.7" cy="497.9" r="2.55"/><circle cx="256.7" cy="500.9" r="2.55"/><circle cx="275.3" cy="498.3" r="2.55"/><circle cx="282.2" cy="498.9" r="2.55"/><circle cx="290.0" cy="500.3" r="2.55"/><circle cx="297.8" cy="499.9" r="2.55"/><circle cx="302.7" cy="500.3" r="2.55"/><circle cx="242.0" cy="504.8" r="2.55"/><circle cx="260.6" cy="504.8" r="2.55"/><circle cx="267.5" cy="503.8" r="2.55"/><circle cx="275.3" cy="503.4" r="2.55"/><circle cx="281.2" cy="503.8" r="2.55"/><circle cx="301.8" cy="504.8" r="2.55"/><circle cx="243.9" cy="509.7" r="2.55"/><circle cx="255.7" cy="510.7" r="2.55"/><circle cx="269.4" cy="507.7" r="2.55"/><circle cx="274.3" cy="508.7" r="2.55"/><circle cx="284.1" cy="509.7" r="2.55"/><circle cx="303.0" cy="512.2" r="2.55"/><circle cx="307.4" cy="514.9" r="2.55"/><circle cx="258.6" cy="518.5" r="2.55"/><circle cx="269.4" cy="518.5" r="2.55"/><circle cx="296.9" cy="517.2" r="2.55"/><circle cx="305.0" cy="518.7" r="2.55"/><circle cx="288.0" cy="524.4" r="2.55"/><circle cx="297.8" cy="524.9" r="2.55"/><circle cx="251.8" cy="529.3" r="2.55"/><circle cx="260.6" cy="531.3" r="2.55"/><circle cx="265.5" cy="530.3" r="2.55"/><circle cx="279.2" cy="531.3" r="2.55"/><circle cx="284.1" cy="530.3" r="2.55"/><circle cx="297.8" cy="535.5" r="2.55"/><circle cx="251.8" cy="535.2" r="2.55"/><circle cx="257.6" cy="535.2" r="2.55"/><circle cx="262.5" cy="537.2" r="2.55"/><circle cx="269.4" cy="536.2" r="2.55"/><circle cx="280.2" cy="538.1" r="2.55"/><circle cx="261.6" cy="542.1" r="2.55"/><circle cx="274.3" cy="544.0" r="2.55"/><circle cx="279.2" cy="545.0" r="2.55"/><circle cx="246.9" cy="545.0" r="2.55"/><circle cx="250.8" cy="550.9" r="2.55"/><circle cx="312.8" cy="473.4" r="2.55"/><circle cx="338.0" cy="472.1" r="2.55"/><circle cx="328.7" cy="482.8" r="2.55"/><circle cx="333.9" cy="483.4" r="2.55"/><circle cx="343.6" cy="483.9" r="2.55"/><circle cx="322.7" cy="484.3" r="2.55"/><circle cx="318.0" cy="486.5" r="2.55"/><circle cx="330.5" cy="489.5" r="2.55"/><circle cx="310.0" cy="489.0" r="2.55"/><circle cx="306.6" cy="491.4" r="2.55"/><circle cx="311.5" cy="494.6" r="2.55"/><circle cx="323.6" cy="494.2" r="2.55"/><circle cx="325.9" cy="497.8" r="2.55"/><circle cx="295.9" cy="492.7" r="2.55"/><circle cx="300.6" cy="500.2" r="2.55"/><circle cx="306.2" cy="500.8" r="2.55"/><circle cx="307.7" cy="503.9" r="2.55"/><circle cx="333.9" cy="507.3" r="2.55"/><circle cx="302.5" cy="516.1" r="2.55"/><circle cx="317.1" cy="515.2" r="2.55"/><circle cx="313.7" cy="517.6" r="2.55"/><circle cx="303.4" cy="525.4" r="2.55"/><circle cx="313.3" cy="533.5" r="2.55"/><circle cx="197.9" cy="451.3" r="2.55"/><circle cx="113.9" cy="495.4" r="2.55"/></g><g fill="#f2b028"><circle cx="196.3" cy="508.9" r="2.55"/><circle cx="241.3" cy="500.5" r="2.55"/><circle cx="236.7" cy="530.3" r="2.55"/><circle cx="311.0" cy="510.3" r="2.55"/><circle cx="256.8" cy="531.3" r="2.55"/><circle cx="192.5" cy="537.8" r="2.55"/><circle cx="213.1" cy="510.2" r="2.55"/><circle cx="188.2" cy="527.6" r="2.55"/><circle cx="303.8" cy="531.1" r="2.55"/><circle cx="285.7" cy="501.1" r="2.55"/><circle cx="269.6" cy="521.9" r="2.55"/><circle cx="210.3" cy="525.4" r="2.55"/><circle cx="286.1" cy="505.3" r="2.55"/><circle cx="309.6" cy="520.7" r="2.55"/><circle cx="244.7" cy="526.8" r="2.55"/><circle cx="197.8" cy="540.9" r="2.55"/><circle cx="222.3" cy="534.6" r="2.55"/><circle cx="253.0" cy="538.5" r="2.55"/><circle cx="293.7" cy="505.3" r="2.55"/><circle cx="279.8" cy="507.6" r="2.55"/><circle cx="230.5" cy="514.4" r="2.55"/><circle cx="234.0" cy="538.8" r="2.55"/><circle cx="214.6" cy="500.6" r="2.55"/><circle cx="276.4" cy="513.0" r="2.55"/><circle cx="250.7" cy="517.8" r="2.55"/><circle cx="241.8" cy="497.5" r="2.55"/><circle cx="263.9" cy="506.9" r="2.55"/><circle cx="210.9" cy="525.8" r="2.55"/><circle cx="253.9" cy="506.5" r="2.55"/><circle cx="255.4" cy="543.5" r="2.55"/><circle cx="302.6" cy="509.0" r="2.55"/><circle cx="261.2" cy="546.6" r="2.55"/><circle cx="193.0" cy="505.3" r="2.55"/><circle cx="275.2" cy="524.8" r="2.55"/><circle cx="311.4" cy="512.4" r="2.55"/><circle cx="199.0" cy="511.4" r="2.55"/><circle cx="217.4" cy="536.7" r="2.55"/><circle cx="203.2" cy="535.3" r="2.55"/><circle cx="271.9" cy="532.2" r="2.55"/><circle cx="282.0" cy="521.2" r="2.55"/><circle cx="211.9" cy="521.8" r="2.55"/><circle cx="275.9" cy="488.3" r="2.55"/><circle cx="262.1" cy="499.9" r="2.55"/><circle cx="196.4" cy="513.8" r="2.55"/><circle cx="267.8" cy="513.6" r="2.55"/><circle cx="206.9" cy="500.5" r="2.55"/><circle cx="292.8" cy="522.2" r="2.55"/><circle cx="276.3" cy="517.7" r="2.55"/><circle cx="197.5" cy="538.2" r="2.55"/><circle cx="240.3" cy="501.5" r="2.55"/><circle cx="288.6" cy="513.8" r="2.55"/><circle cx="295.0" cy="521.2" r="2.55"/><circle cx="234.0" cy="529.9" r="2.55"/><circle cx="250.3" cy="524.6" r="2.55"/><circle cx="238.8" cy="529.5" r="2.55"/><circle cx="214.9" cy="513.5" r="2.55"/><circle cx="298.2" cy="510.2" r="2.55"/><circle cx="235.1" cy="514.2" r="2.55"/><circle cx="271.6" cy="525.2" r="2.55"/><circle cx="258.4" cy="508.6" r="2.55"/><circle cx="260.0" cy="511.7" r="2.55"/><circle cx="241.5" cy="547.6" r="2.55"/><circle cx="296.6" cy="506.9" r="2.55"/><circle cx="163.0" cy="513.3" r="2.55"/><circle cx="176.4" cy="500.4" r="2.55"/><circle cx="161.3" cy="518.1" r="2.55"/><circle cx="167.4" cy="521.3" r="2.55"/><circle cx="136.1" cy="501.8" r="2.55"/><circle cx="136.1" cy="505.7" r="2.55"/><circle cx="127.1" cy="509.6" r="2.55"/><circle cx="137.8" cy="512.7" r="2.55"/><circle cx="150.2" cy="516.5" r="2.55"/><circle cx="162.0" cy="512.7" r="2.55"/><circle cx="165.9" cy="497.8" r="2.55"/><circle cx="171.2" cy="497.1" r="2.55"/><circle cx="170.4" cy="503.7" r="2.55"/><circle cx="173.7" cy="501.8" r="2.55"/><circle cx="170.8" cy="508.6" r="2.55"/><circle cx="177.8" cy="513.6" r="2.55"/><circle cx="138.4" cy="520.0" r="2.55"/><circle cx="158.0" cy="520.6" r="2.55"/><circle cx="145.3" cy="525.9" r="2.55"/><circle cx="147.3" cy="544.1" r="2.55"/><circle cx="245.5" cy="473.6" r="2.55"/><circle cx="181.9" cy="497.7" r="2.55"/><circle cx="186.8" cy="501.1" r="2.55"/><circle cx="179.3" cy="502.1" r="2.55"/><circle cx="206.4" cy="503.6" r="2.55"/><circle cx="220.5" cy="507.0" r="2.55"/><circle cx="234.8" cy="496.6" r="2.55"/><circle cx="239.7" cy="497.7" r="2.55"/><circle cx="243.9" cy="492.6" r="2.55"/><circle cx="198.5" cy="507.9" r="2.55"/><circle cx="182.8" cy="515.8" r="2.55"/><circle cx="194.6" cy="511.9" r="2.55"/><circle cx="211.3" cy="517.7" r="2.55"/><circle cx="227.0" cy="513.4" r="2.55"/><circle cx="232.8" cy="513.8" r="2.55"/><circle cx="237.7" cy="513.8" r="2.55"/><circle cx="185.8" cy="519.7" r="2.55"/><circle cx="188.7" cy="523.6" r="2.55"/><circle cx="220.5" cy="519.7" r="2.55"/><circle cx="232.8" cy="520.7" r="2.55"/><circle cx="185.8" cy="527.9" r="2.55"/><circle cx="196.6" cy="530.5" r="2.55"/><circle cx="202.5" cy="525.6" r="2.55"/><circle cx="212.3" cy="525.6" r="2.55"/><circle cx="220.5" cy="525.6" r="2.55"/><circle cx="227.9" cy="528.5" r="2.55"/><circle cx="233.8" cy="525.6" r="2.55"/><circle cx="239.7" cy="526.6" r="2.55"/><circle cx="192.6" cy="537.4" r="2.55"/><circle cx="198.5" cy="533.4" r="2.55"/><circle cx="200.5" cy="539.3" r="2.55"/><circle cx="212.3" cy="532.5" r="2.55"/><circle cx="209.3" cy="540.3" r="2.55"/><circle cx="212.3" cy="538.3" r="2.55"/><circle cx="219.1" cy="535.4" r="2.55"/><circle cx="233.8" cy="532.5" r="2.55"/><circle cx="241.8" cy="534.3" r="2.55"/><circle cx="216.2" cy="542.3" r="2.55"/><circle cx="221.1" cy="541.3" r="2.55"/><circle cx="237.4" cy="545.2" r="2.55"/><circle cx="274.9" cy="445.0" r="2.55"/><circle cx="256.3" cy="461.7" r="2.55"/><circle cx="293.9" cy="463.6" r="2.55"/><circle cx="275.9" cy="470.1" r="2.55"/><circle cx="278.2" cy="474.0" r="2.55"/><circle cx="251.4" cy="485.8" r="2.55"/><circle cx="262.0" cy="485.6" r="2.55"/><circle cx="271.0" cy="483.6" r="2.55"/><circle cx="276.3" cy="491.7" r="2.55"/><circle cx="305.0" cy="496.1" r="2.55"/><circle cx="241.0" cy="497.5" r="2.55"/><circle cx="263.5" cy="498.9" r="2.55"/><circle cx="268.4" cy="500.3" r="2.55"/><circle cx="247.8" cy="505.4" r="2.55"/><circle cx="252.7" cy="506.8" r="2.55"/><circle cx="289.0" cy="502.8" r="2.55"/><circle cx="297.0" cy="503.6" r="2.55"/><circle cx="306.6" cy="507.7" r="2.55"/><circle cx="248.8" cy="512.6" r="2.55"/><circle cx="260.6" cy="513.6" r="2.55"/><circle cx="267.5" cy="512.6" r="2.55"/><circle cx="280.2" cy="511.7" r="2.55"/><circle cx="288.0" cy="511.7" r="2.55"/><circle cx="293.9" cy="511.7" r="2.55"/><circle cx="298.8" cy="509.7" r="2.55"/><circle cx="241.0" cy="516.6" r="2.55"/><circle cx="245.9" cy="515.6" r="2.55"/><circle cx="252.7" cy="514.6" r="2.55"/><circle cx="263.5" cy="517.5" r="2.55"/><circle cx="274.3" cy="519.1" r="2.55"/><circle cx="279.2" cy="516.6" r="2.55"/><circle cx="285.1" cy="515.6" r="2.55"/><circle cx="291.0" cy="515.6" r="2.55"/><circle cx="299.8" cy="519.6" r="2.55"/><circle cx="243.9" cy="522.5" r="2.55"/><circle cx="249.8" cy="522.5" r="2.55"/><circle cx="255.7" cy="523.4" r="2.55"/><circle cx="261.6" cy="524.4" r="2.55"/><circle cx="267.5" cy="522.5" r="2.55"/><circle cx="270.4" cy="526.4" r="2.55"/><circle cx="276.3" cy="523.4" r="2.55"/><circle cx="282.2" cy="526.4" r="2.55"/><circle cx="283.1" cy="521.5" r="2.55"/><circle cx="292.9" cy="521.5" r="2.55"/><circle cx="304.7" cy="527.8" r="2.55"/><circle cx="307.6" cy="522.5" r="2.55"/><circle cx="241.0" cy="527.4" r="2.55"/><circle cx="245.9" cy="530.3" r="2.55"/><circle cx="255.7" cy="528.3" r="2.55"/><circle cx="273.3" cy="529.3" r="2.55"/><circle cx="291.0" cy="531.3" r="2.55"/><circle cx="306.6" cy="537.2" r="2.55"/><circle cx="245.9" cy="536.2" r="2.55"/><circle cx="275.3" cy="536.2" r="2.55"/><circle cx="287.1" cy="536.2" r="2.55"/><circle cx="291.0" cy="539.1" r="2.55"/><circle cx="255.7" cy="540.1" r="2.55"/><circle cx="267.5" cy="550.9" r="2.55"/><circle cx="303.4" cy="494.6" r="2.55"/><circle cx="313.7" cy="506.7" r="2.55"/><circle cx="317.8" cy="505.8" r="2.55"/><circle cx="300.6" cy="510.5" r="2.55"/><circle cx="295.9" cy="513.3" r="2.55"/><circle cx="297.8" cy="515.7" r="2.55"/><circle cx="309.0" cy="522.6" r="2.55"/><circle cx="320.8" cy="540.0" r="2.55"/></g></g><g stroke="#3a3a3a" stroke-width="1" fill="none"><rect x="41.00" y="0.30" width="308.40" height="555.25"/><line x1="41.00" y1="111.35" x2="349.40" y2="111.35"/><line x1="41.00" y1="222.40" x2="349.40" y2="222.40"/><line x1="41.00" y1="333.45" x2="349.40" y2="333.45"/><line x1="41.00" y1="444.50" x2="349.40" y2="444.50"/><line x1="92.40" y1="0.30" x2="92.40" y2="3.30"/><line x1="143.80" y1="0.30" x2="143.80" y2="3.30"/><line x1="195.20" y1="0.30" x2="195.20" y2="3.30"/><line x1="246.60" y1="0.30" x2="246.60" y2="3.30"/><line x1="298.00" y1="0.30" x2="298.00" y2="3.30"/><line x1="92.40" y1="108.35" x2="92.40" y2="114.35"/><line x1="143.80" y1="108.35" x2="143.80" y2="114.35"/><line x1="195.20" y1="108.35" x2="195.20" y2="114.35"/><line x1="246.60" y1="108.35" x2="246.60" y2="114.35"/><line x1="298.00" y1="108.35" x2="298.00" y2="114.35"/><line x1="92.40" y1="219.40" x2="92.40" y2="225.40"/><line x1="143.80" y1="219.40" x2="143.80" y2="225.40"/><line x1="195.20" y1="219.40" x2="195.20" y2="225.40"/><line x1="246.60" y1="219.40" x2="246.60" y2="225.40"/><line x1="298.00" y1="219.40" x2="298.00" y2="225.40"/><line x1="92.40" y1="330.45" x2="92.40" y2="336.45"/><line x1="143.80" y1="330.45" x2="143.80" y2="336.45"/><line x1="195.20" y1="330.45" x2="195.20" y2="336.45"/><line x1="246.60" y1="330.45" x2="246.60" y2="336.45"/><line x1="298.00" y1="330.45" x2="298.00" y2="336.45"/><line x1="92.40" y1="441.50" x2="92.40" y2="447.50"/><line x1="143.80" y1="441.50" x2="143.80" y2="447.50"/><line x1="195.20" y1="441.50" x2="195.20" y2="447.50"/><line x1="246.60" y1="441.50" x2="246.60" y2="447.50"/><line x1="298.00" y1="441.50" x2="298.00" y2="447.50"/><line x1="92.40" y1="552.55" x2="92.40" y2="555.55"/><line x1="143.80" y1="552.55" x2="143.80" y2="555.55"/><line x1="195.20" y1="552.55" x2="195.20" y2="555.55"/><line x1="246.60" y1="552.55" x2="246.60" y2="555.55"/><line x1="298.00" y1="552.55" x2="298.00" y2="555.55"/><line x1="41.00" y1="9.18" x2="44.00" y2="9.18"/><line x1="346.40" y1="9.18" x2="349.40" y2="9.18"/><line x1="41.00" y1="22.51" x2="44.00" y2="22.51"/><line x1="346.40" y1="22.51" x2="349.40" y2="22.51"/><line x1="41.00" y1="35.84" x2="44.00" y2="35.84"/><line x1="346.40" y1="35.84" x2="349.40" y2="35.84"/><line x1="41.00" y1="49.16" x2="44.00" y2="49.16"/><line x1="346.40" y1="49.16" x2="349.40" y2="49.16"/><line x1="41.00" y1="62.49" x2="44.00" y2="62.49"/><line x1="346.40" y1="62.49" x2="349.40" y2="62.49"/><line x1="41.00" y1="75.81" x2="44.00" y2="75.81"/><line x1="346.40" y1="75.81" x2="349.40" y2="75.81"/><line x1="41.00" y1="89.14" x2="44.00" y2="89.14"/><line x1="346.40" y1="89.14" x2="349.40" y2="89.14"/><line x1="41.00" y1="102.47" x2="44.00" y2="102.47"/><line x1="346.40" y1="102.47" x2="349.40" y2="102.47"/><line x1="41.00" y1="120.23" x2="44.00" y2="120.23"/><line x1="346.40" y1="120.23" x2="349.40" y2="120.23"/><line x1="41.00" y1="133.56" x2="44.00" y2="133.56"/><line x1="346.40" y1="133.56" x2="349.40" y2="133.56"/><line x1="41.00" y1="146.89" x2="44.00" y2="146.89"/><line x1="346.40" y1="146.89" x2="349.40" y2="146.89"/><line x1="41.00" y1="160.21" x2="44.00" y2="160.21"/><line x1="346.40" y1="160.21" x2="349.40" y2="160.21"/><line x1="41.00" y1="173.54" x2="44.00" y2="173.54"/><line x1="346.40" y1="173.54" x2="349.40" y2="173.54"/><line x1="41.00" y1="186.86" x2="44.00" y2="186.86"/><line x1="346.40" y1="186.86" x2="349.40" y2="186.86"/><line x1="41.00" y1="200.19" x2="44.00" y2="200.19"/><line x1="346.40" y1="200.19" x2="349.40" y2="200.19"/><line x1="41.00" y1="213.52" x2="44.00" y2="213.52"/><line x1="346.40" y1="213.52" x2="349.40" y2="213.52"/><line x1="41.00" y1="233.50" x2="44.00" y2="233.50"/><line x1="346.40" y1="233.50" x2="349.40" y2="233.50"/><line x1="41.00" y1="255.72" x2="44.00" y2="255.72"/><line x1="346.40" y1="255.72" x2="349.40" y2="255.72"/><line x1="41.00" y1="277.93" x2="44.00" y2="277.93"/><line x1="346.40" y1="277.93" x2="349.40" y2="277.93"/><line x1="41.00" y1="300.13" x2="44.00" y2="300.13"/><line x1="346.40" y1="300.13" x2="349.40" y2="300.13"/><line x1="41.00" y1="322.35" x2="44.00" y2="322.35"/><line x1="346.40" y1="322.35" x2="349.40" y2="322.35"/><line x1="41.00" y1="345.79" x2="44.00" y2="345.79"/><line x1="346.40" y1="345.79" x2="349.40" y2="345.79"/><line x1="41.00" y1="358.13" x2="44.00" y2="358.13"/><line x1="346.40" y1="358.13" x2="349.40" y2="358.13"/><line x1="41.00" y1="370.47" x2="44.00" y2="370.47"/><line x1="346.40" y1="370.47" x2="349.40" y2="370.47"/><line x1="41.00" y1="382.81" x2="44.00" y2="382.81"/><line x1="346.40" y1="382.81" x2="349.40" y2="382.81"/><line x1="41.00" y1="395.14" x2="44.00" y2="395.14"/><line x1="346.40" y1="395.14" x2="349.40" y2="395.14"/><line x1="41.00" y1="407.48" x2="44.00" y2="407.48"/><line x1="346.40" y1="407.48" x2="349.40" y2="407.48"/><line x1="41.00" y1="419.82" x2="44.00" y2="419.82"/><line x1="346.40" y1="419.82" x2="349.40" y2="419.82"/><line x1="41.00" y1="432.16" x2="44.00" y2="432.16"/><line x1="346.40" y1="432.16" x2="349.40" y2="432.16"/><line x1="41.00" y1="453.38" x2="44.00" y2="453.38"/><line x1="346.40" y1="453.38" x2="349.40" y2="453.38"/><line x1="41.00" y1="466.71" x2="44.00" y2="466.71"/><line x1="346.40" y1="466.71" x2="349.40" y2="466.71"/><line x1="41.00" y1="480.04" x2="44.00" y2="480.04"/><line x1="346.40" y1="480.04" x2="349.40" y2="480.04"/><line x1="41.00" y1="493.36" x2="44.00" y2="493.36"/><line x1="346.40" y1="493.36" x2="349.40" y2="493.36"/><line x1="41.00" y1="506.69" x2="44.00" y2="506.69"/><line x1="346.40" y1="506.69" x2="349.40" y2="506.69"/><line x1="41.00" y1="520.01" x2="44.00" y2="520.01"/><line x1="346.40" y1="520.01" x2="349.40" y2="520.01"/><line x1="41.00" y1="533.34" x2="44.00" y2="533.34"/><line x1="346.40" y1="533.34" x2="349.40" y2="533.34"/><line x1="41.00" y1="546.67" x2="44.00" y2="546.67"/><line x1="346.40" y1="546.67" x2="349.40" y2="546.67"/></g><g font-size="8.5" text-anchor="end"><text x="36.8" y="12.23">0.75</text><text x="36.8" y="25.56">0.60</text><text x="36.8" y="38.89">0.45</text><text x="36.8" y="52.21">0.30</text><text x="36.8" y="65.54">0.15</text><text x="36.8" y="78.86">0.00</text><text x="36.8" y="92.19">-0.15</text><text x="36.8" y="105.52">-0.30</text><text x="36.8" y="123.28">0.75</text><text x="36.8" y="136.61">0.60</text><text x="36.8" y="149.94">0.45</text><text x="36.8" y="163.26">0.30</text><text x="36.8" y="176.59">0.15</text><text x="36.8" y="189.91">0.00</text><text x="36.8" y="203.24">-0.15</text><text x="36.8" y="216.57">-0.30</text><text x="36.8" y="236.56">0.4</text><text x="36.8" y="258.76">0.2</text><text x="36.8" y="280.98">0.0</text><text x="36.8" y="303.19">-0.2</text><text x="36.8" y="325.40">-0.4</text><text x="36.8" y="348.84">0.25</text><text x="36.8" y="361.18">0.20</text><text x="36.8" y="373.52">0.15</text><text x="36.8" y="385.86">0.10</text><text x="36.8" y="398.19">0.05</text><text x="36.8" y="410.53">0.00</text><text x="36.8" y="422.87">-0.05</text><text x="36.8" y="435.21">-0.10</text><text x="36.8" y="456.43">0.75</text><text x="36.8" y="469.76">0.60</text><text x="36.8" y="483.09">0.45</text><text x="36.8" y="496.41">0.30</text><text x="36.8" y="509.74">0.15</text><text x="36.8" y="523.06">0.00</text><text x="36.8" y="536.39">-0.15</text><text x="36.8" y="549.72">-0.30</text></g><g font-size="8.5" text-anchor="middle"><text x="41.00" y="567.60">-1.00</text><text x="92.40" y="567.60">-0.75</text><text x="143.80" y="567.60">-0.50</text><text x="195.20" y="567.60">-0.25</text><text x="246.60" y="567.60">0.00</text><text x="298.00" y="567.60">0.25</text><text x="349.40" y="567.60">0.50</text></g><text x="195.20" y="586" font-size="10" text-anchor="middle">[Fe/H]</text><text transform="translate(9.2 55.32) rotate(-90)" font-size="10" text-anchor="middle">[Si/Fe]</text><text transform="translate(9.2 166.38) rotate(-90)" font-size="10" text-anchor="middle">[Ca/Fe]</text><text transform="translate(9.2 277.43) rotate(-90)" font-size="10" text-anchor="middle">[Mn/Fe]</text><text transform="translate(9.2 388.47) rotate(-90)" font-size="10" text-anchor="middle">[Ni/Fe]</text><text transform="translate(9.2 499.52) rotate(-90)" font-size="10" text-anchor="middle">[Zn/Fe]</text><rect x="45.5" y="73.6" width="77.7" height="30.4" fill="#fff" stroke="#3a3a3a" stroke-width="1"/><circle cx="61.3" cy="84.1" r="2.65" fill="#dc1c24" stroke="#140c0c" stroke-width="0.9"/><circle cx="61.3" cy="93.7" r="2.65" fill="#f2b028" stroke="#140c0c" stroke-width="0.9"/><text x="75.8" y="87.0" font-size="8.6">Dwarf</text><text x="75.8" y="96.6" font-size="8.6">Non-Dwarf</text></svg></body></html>
